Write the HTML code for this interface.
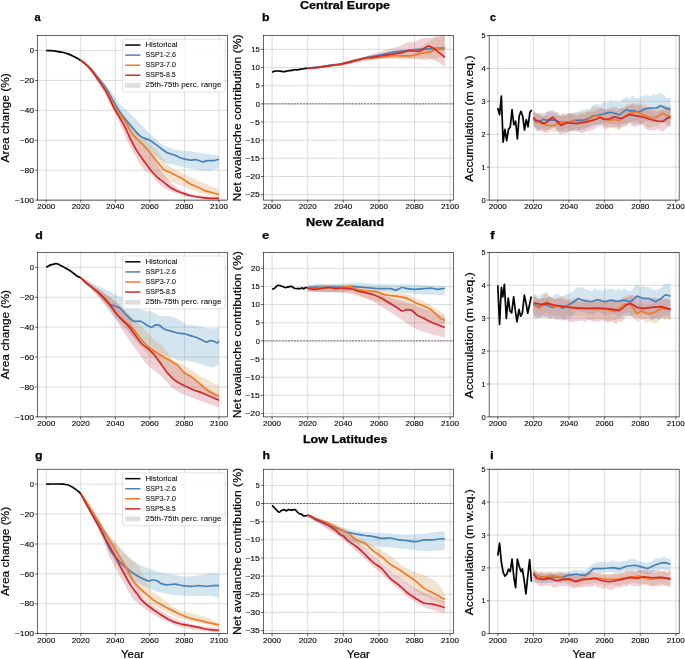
<!DOCTYPE html><html><head><meta charset="utf-8"><style>html,body{margin:0;padding:0;background:#fff;width:685px;height:659px;overflow:hidden}svg{display:block;filter:blur(0.3px)}text{font-family:"Liberation Sans",sans-serif}</style></head><body>
<svg width="685" height="659" viewBox="0 0 685 659">
<rect width="685" height="659" fill="#fff"/>
<g>
<clipPath id="cpa"><rect x="37.60" y="35.60" width="190.00" height="164.50"/></clipPath>
<path d="M46.24,35.60V200.10M80.78,35.60V200.10M115.33,35.60V200.10M149.87,35.60V200.10M184.42,35.60V200.10M218.96,35.60V200.10M37.60,50.55H227.60M37.60,80.46H227.60M37.60,110.37H227.60M37.60,140.28H227.60M37.60,170.19H227.60M37.60,200.10H227.60" stroke="#b0b0b0" stroke-opacity="0.75" stroke-width="0.6" fill="none"/>
<g clip-path="url(#cpa)">
<path d="M80.78,60.42 C83.66,63.02 93.16,71.04 98.05,75.98 C102.95,80.91 106.69,85.55 110.15,90.03 C113.60,94.52 115.62,99.11 118.78,102.90 C121.95,106.68 125.92,109.62 129.15,112.77 C132.37,115.91 134.64,118.25 138.13,121.74 C141.61,125.23 146.22,130.04 150.05,133.70 C153.87,137.37 157.59,141.30 161.10,143.72 C164.61,146.14 167.95,147.14 171.12,148.21 C174.28,149.28 176.82,149.60 180.10,150.15 C183.38,150.70 186.78,150.92 190.81,151.50 C194.84,152.07 199.59,152.89 204.28,153.59 C208.97,154.29 216.52,155.34 218.96,155.69 L218.96,167.20 C218.10,167.70 216.23,169.62 213.78,170.19 C211.33,170.76 208.11,170.86 204.28,170.64 C200.45,170.42 194.84,169.54 190.81,168.84 C186.78,168.15 182.81,167.15 180.10,166.45 C177.39,165.75 177.02,165.28 174.57,164.66 C172.13,164.03 168.38,164.03 165.42,162.71 C162.45,161.39 159.37,158.85 156.78,156.73 C154.19,154.61 152.46,152.25 149.87,150.00 C147.28,147.76 144.12,145.89 141.24,143.27 C138.36,140.66 135.48,137.79 132.60,134.30 C129.72,130.81 126.84,126.82 123.96,122.34 C121.08,117.85 118.21,112.37 115.33,107.38 C112.45,102.40 109.57,97.04 106.69,92.43 C103.81,87.82 102.37,85.05 98.05,79.72 C93.74,74.38 83.66,63.64 80.78,60.42Z" fill="#5397c3" fill-opacity="0.25" stroke="none"/>
<path d="M80.78,60.42 C83.66,63.14 92.30,69.40 98.05,76.72 C103.81,84.05 111.01,97.66 115.33,104.39 C119.65,111.12 121.08,113.36 123.96,117.10 C126.84,120.84 129.72,123.71 132.60,126.82 C135.48,129.94 138.36,132.93 141.24,135.80 C144.12,138.66 147.28,141.65 149.87,144.02 C152.46,146.39 154.48,147.39 156.78,150.00 C159.08,152.62 161.30,156.86 163.69,159.72 C166.08,162.59 167.66,164.83 171.12,167.20 C174.57,169.57 179.32,171.44 184.42,173.93 C189.51,176.42 195.93,179.66 201.69,182.15 C207.45,184.65 216.08,187.76 218.96,188.88 L218.96,197.11 C216.08,196.49 207.45,195.07 201.69,193.37 C195.93,191.68 189.02,188.68 184.42,186.94 C179.81,185.20 177.51,184.32 174.05,182.90 C170.60,181.48 167.15,180.29 163.69,178.42 C160.24,176.55 156.06,173.83 153.33,171.69 C150.59,169.54 149.18,167.80 147.28,165.56 C145.38,163.31 143.80,160.94 141.93,158.23 C140.06,155.51 137.90,152.49 136.05,149.25 C134.21,146.01 132.89,142.77 130.87,138.79 C128.86,134.80 126.55,129.81 123.96,125.33 C121.37,120.84 119.65,119.35 115.33,111.87 C111.01,104.39 103.81,89.04 98.05,80.46 C92.30,71.89 83.66,63.76 80.78,60.42Z" fill="#cf934b" fill-opacity="0.25" stroke="none"/>
<path d="M80.78,60.42 C83.66,63.64 92.30,71.77 98.05,79.72 C103.81,87.67 111.01,101.52 115.33,108.13 C119.65,114.73 121.37,115.36 123.96,119.35 C126.55,123.33 128.57,128.62 130.87,132.06 C133.18,135.50 135.48,137.59 137.78,139.98 C140.08,142.38 142.47,144.12 144.69,146.41 C146.91,148.71 149.07,150.77 151.08,153.74 C153.10,156.71 154.68,160.72 156.78,164.21 C158.88,167.70 160.81,171.19 163.69,174.68 C166.57,178.17 170.60,182.30 174.05,185.15 C177.51,187.99 179.81,189.98 184.42,191.73 C189.02,193.47 195.93,194.72 201.69,195.61 C207.45,196.51 216.08,196.86 218.96,197.11 L218.96,199.20 C216.08,199.10 207.45,199.08 201.69,198.60 C195.93,198.13 189.02,197.36 184.42,196.36 C179.81,195.36 177.51,194.09 174.05,192.62 C170.60,191.15 166.57,189.41 163.69,187.54 C160.81,185.67 159.03,183.67 156.78,181.41 C154.54,179.14 152.26,175.82 150.22,173.93 C148.17,172.04 146.53,172.21 144.52,170.04 C142.50,167.87 140.69,165.16 138.13,160.92 C135.57,156.68 132.17,150.75 129.15,144.62 C126.12,138.49 122.29,129.22 119.99,124.13 C117.69,119.05 118.12,119.64 115.33,114.11 C112.53,108.58 106.98,97.54 103.24,90.93 C99.49,84.33 96.62,79.57 92.87,74.48 C89.13,69.40 82.80,62.77 80.78,60.42Z" fill="#bb4b5f" fill-opacity="0.25" stroke="none"/>
<path d="M46.24,50.55 C47.10,50.58 49.69,50.58 51.42,50.70 C53.15,50.83 54.58,51.00 56.60,51.30 C58.62,51.60 61.49,52.03 63.51,52.50 C65.52,52.97 66.96,53.47 68.69,54.14 C70.42,54.82 72.43,55.84 73.87,56.54 C75.31,57.23 76.18,57.68 77.33,58.33 C78.48,58.98 80.21,60.08 80.78,60.42" stroke="#000" stroke-width="1.7" fill="none" stroke-linejoin="round" stroke-linecap="butt"/>
<path d="M80.78,60.42 C82.22,61.60 86.54,64.61 89.42,67.45 C92.30,70.29 95.09,73.71 98.05,77.47 C101.02,81.24 104.76,86.30 107.21,90.03 C109.66,93.77 110.61,96.27 112.74,99.90 C114.87,103.54 117.26,107.91 119.99,111.87 C122.73,115.83 125.81,119.67 129.15,123.68 C132.48,127.70 136.54,133.15 140.03,135.94 C143.51,138.74 146.99,138.69 150.05,140.43 C153.10,142.18 155.43,144.34 158.34,146.41 C161.24,148.48 164.78,151.40 167.49,152.84 C170.20,154.29 172.47,154.26 174.57,155.09 C176.67,155.91 178.46,157.13 180.10,157.78 C181.74,158.43 182.63,158.58 184.42,158.97 C186.20,159.37 188.85,160.05 190.81,160.17 C192.77,160.30 194.15,159.45 196.16,159.72 C198.18,160.00 201.09,161.67 202.90,161.82 C204.71,161.97 205.23,160.82 207.05,160.62 C208.86,160.42 211.80,160.84 213.78,160.62 C215.77,160.40 218.10,159.50 218.96,159.27" stroke="#4682b9" stroke-width="1.7" fill="none" stroke-linejoin="round" stroke-linecap="butt"/>
<path d="M80.78,60.42 C82.22,61.65 86.54,64.66 89.42,67.75 C92.30,70.84 95.18,74.98 98.05,78.97 C100.93,82.96 103.64,86.57 106.69,91.68 C109.74,96.79 114.15,105.81 116.36,109.62 C118.58,113.44 118.47,112.54 119.99,114.56 C121.52,116.58 123.56,118.70 125.52,121.74 C127.48,124.78 129.63,129.76 131.74,132.80 C133.84,135.85 136.00,137.71 138.13,139.98 C140.26,142.25 142.36,144.12 144.52,146.41 C146.68,148.71 149.10,151.32 151.08,153.74 C153.07,156.16 154.77,158.80 156.44,160.92 C158.11,163.04 159.75,164.93 161.10,166.45 C162.45,167.97 163.00,169.02 164.55,170.04 C166.11,171.06 168.33,171.59 170.43,172.58 C172.53,173.58 174.83,174.78 177.16,176.02 C179.50,177.27 182.14,178.69 184.42,180.06 C186.69,181.43 188.62,183.10 190.81,184.25 C193.00,185.39 195.30,185.92 197.55,186.94 C199.79,187.96 202.04,189.48 204.28,190.38 C206.53,191.28 208.57,191.60 211.02,192.32 C213.47,193.05 217.64,194.32 218.96,194.72" stroke="#f27a24" stroke-width="1.7" fill="none" stroke-linejoin="round" stroke-linecap="butt"/>
<path d="M80.78,60.42 C81.79,61.22 84.81,63.24 86.83,65.21 C88.84,67.18 90.86,69.60 92.87,72.24 C94.89,74.88 96.79,77.95 98.92,81.06 C101.05,84.18 103.78,87.79 105.65,90.93 C107.53,94.07 108.62,96.79 110.15,99.90 C111.67,103.02 113.17,106.58 114.81,109.62 C116.45,112.67 118.21,115.06 119.99,118.15 C121.78,121.24 123.70,124.53 125.52,128.17 C127.33,131.81 129.06,136.32 130.87,139.98 C132.69,143.65 134.56,147.11 136.40,150.15 C138.24,153.19 140.11,155.66 141.93,158.23 C143.74,160.79 145.93,163.69 147.28,165.56 C148.63,167.42 148.43,167.57 150.05,169.44 C151.66,171.31 154.68,174.65 156.95,176.77 C159.23,178.89 161.45,180.36 163.69,182.15 C165.94,183.95 168.18,186.07 170.43,187.54 C172.67,189.01 174.83,189.96 177.16,190.98 C179.50,192.00 182.14,192.87 184.42,193.67 C186.69,194.47 187.50,195.07 190.81,195.76 C194.12,196.46 199.59,197.41 204.28,197.86 C208.97,198.31 216.52,198.36 218.96,198.46" stroke="#d62728" stroke-width="1.7" fill="none" stroke-linejoin="round" stroke-linecap="butt"/>
</g>
<path d="M46.24,200.10v2.5M80.78,200.10v2.5M115.33,200.10v2.5M149.87,200.10v2.5M184.42,200.10v2.5M218.96,200.10v2.5M37.60,50.55h-2.5M37.60,80.46h-2.5M37.60,110.37h-2.5M37.60,140.28h-2.5M37.60,170.19h-2.5M37.60,200.10h-2.5" stroke="#000" stroke-width="0.6" fill="none"/>
<rect x="37.60" y="35.60" width="190.00" height="164.50" stroke="#000" stroke-width="0.6" fill="none"/>
<text x="37.21" y="209.2" font-size="7.35" font-weight="normal" textLength="18.00" lengthAdjust="spacingAndGlyphs" fill="#000" stroke="#000" stroke-width="0.1">2000</text>
<text x="71.76" y="209.2" font-size="7.35" font-weight="normal" textLength="18.00" lengthAdjust="spacingAndGlyphs" fill="#000" stroke="#000" stroke-width="0.1">2020</text>
<text x="106.30" y="209.2" font-size="7.35" font-weight="normal" textLength="18.00" lengthAdjust="spacingAndGlyphs" fill="#000" stroke="#000" stroke-width="0.1">2040</text>
<text x="140.85" y="209.2" font-size="7.35" font-weight="normal" textLength="18.00" lengthAdjust="spacingAndGlyphs" fill="#000" stroke="#000" stroke-width="0.1">2060</text>
<text x="175.39" y="209.2" font-size="7.35" font-weight="normal" textLength="18.00" lengthAdjust="spacingAndGlyphs" fill="#000" stroke="#000" stroke-width="0.1">2080</text>
<text x="209.94" y="209.2" font-size="7.35" font-weight="normal" textLength="18.00" lengthAdjust="spacingAndGlyphs" fill="#000" stroke="#000" stroke-width="0.1">2100</text>
<text x="29.88" y="53.2" font-size="7.35" font-weight="normal" textLength="4.21" lengthAdjust="spacingAndGlyphs" fill="#000" stroke="#000" stroke-width="0.1">0</text>
<text x="19.43" y="83.11" font-size="7.35" font-weight="normal" textLength="14.72" lengthAdjust="spacingAndGlyphs" fill="#000" stroke="#000" stroke-width="0.1">−20</text>
<text x="19.43" y="113.02" font-size="7.35" font-weight="normal" textLength="14.72" lengthAdjust="spacingAndGlyphs" fill="#000" stroke="#000" stroke-width="0.1">−40</text>
<text x="19.43" y="142.93" font-size="7.35" font-weight="normal" textLength="14.72" lengthAdjust="spacingAndGlyphs" fill="#000" stroke="#000" stroke-width="0.1">−60</text>
<text x="19.43" y="172.84" font-size="7.35" font-weight="normal" textLength="14.72" lengthAdjust="spacingAndGlyphs" fill="#000" stroke="#000" stroke-width="0.1">−80</text>
<text x="14.85" y="202.75" font-size="7.35" font-weight="normal" textLength="19.29" lengthAdjust="spacingAndGlyphs" fill="#000" stroke="#000" stroke-width="0.1">−100</text>
</g>
<g>
<clipPath id="cpb"><rect x="263.45" y="35.60" width="190.00" height="164.50"/></clipPath>
<path d="M272.09,35.60V200.10M307.70,35.60V200.10M343.31,35.60V200.10M378.93,35.60V200.10M414.54,35.60V200.10M450.16,35.60V200.10M263.45,194.65H453.45M263.45,176.50H453.45M263.45,158.34H453.45M263.45,140.18H453.45M263.45,122.03H453.45M263.45,103.87H453.45M263.45,85.71H453.45M263.45,67.56H453.45M263.45,49.40H453.45" stroke="#b0b0b0" stroke-opacity="0.75" stroke-width="0.6" fill="none"/>
<path d="M263.45,103.87H453.45" stroke="#000" stroke-opacity="0.8" stroke-width="0.7" stroke-dasharray="2,1.05" fill="none"/>
<g clip-path="url(#cpb)">
<path d="M307.70,67.74 C313.64,66.89 332.93,64.68 343.31,62.65 C353.70,60.63 363.50,57.12 370.02,55.57 C376.55,54.03 378.04,54.18 382.49,53.39 C386.94,52.61 391.39,51.70 396.73,50.85 C402.08,50.00 408.61,48.91 414.54,48.31 C420.48,47.70 427.30,47.46 432.35,47.22 C437.39,46.98 442.74,46.92 444.81,46.86 L444.81,49.76 C442.74,49.88 437.39,50.19 432.35,50.49 C427.30,50.79 420.48,51.03 414.54,51.58 C408.61,52.12 402.08,52.97 396.73,53.76 C391.39,54.54 386.94,55.51 382.49,56.30 C378.04,57.09 376.55,57.12 370.02,58.48 C363.50,59.84 353.70,62.80 343.31,64.47 C332.93,66.13 313.64,67.80 307.70,68.46Z" fill="#5397c3" fill-opacity="0.25" stroke="none"/>
<path d="M307.70,67.92 C313.64,67.07 332.93,64.71 343.31,62.84 C353.70,60.96 361.42,58.36 370.02,56.66 C378.63,54.97 388.72,53.58 394.95,52.67 C401.19,51.76 403.32,52.06 407.42,51.21 C411.51,50.37 416.50,48.85 419.53,47.58 C422.55,46.31 423.53,44.86 425.58,43.59 C427.63,42.32 429.97,41.23 431.81,39.96 C433.65,38.69 434.46,36.75 436.62,35.96 C438.79,35.18 443.45,35.36 444.81,35.24 L444.81,55.75 C444.07,55.97 441.85,56.57 440.36,57.02 C438.88,57.48 437.84,58.11 435.91,58.48 C433.98,58.84 430.72,58.90 428.79,59.20 C426.86,59.51 425.88,60.29 424.34,60.29 C422.79,60.29 421.78,59.45 419.53,59.20 C417.27,58.96 414.90,58.90 410.80,58.84 C406.71,58.78 401.69,58.72 394.95,58.84 C388.22,58.96 378.99,58.54 370.38,59.57 C361.77,60.60 353.76,63.44 343.31,65.01 C332.87,66.59 313.64,68.34 307.70,69.01Z" fill="#cf934b" fill-opacity="0.25" stroke="none"/>
<path d="M307.70,67.92 C310.67,67.50 319.57,66.28 325.51,65.38 C331.44,64.47 337.38,63.68 343.31,62.47 C349.25,61.26 356.61,59.45 361.12,58.11 C365.63,56.78 366.79,55.63 370.38,54.48 C373.97,53.33 378.57,52.36 382.67,51.21 C386.76,50.06 391.69,48.61 394.95,47.58 C398.22,46.55 400.21,45.89 402.26,45.04 C404.30,44.19 405.19,43.04 407.24,42.50 C409.29,41.95 412.11,42.44 414.54,41.77 C416.98,41.11 418.96,39.23 421.84,38.51 C424.72,37.78 428.94,37.72 431.81,37.42 C434.69,37.11 436.95,37.02 439.12,36.69 C441.28,36.36 443.86,35.63 444.81,35.42 L444.81,67.19 C443.86,66.47 440.90,64.05 439.12,62.84 C437.33,61.62 435.85,60.60 434.13,59.93 C432.41,59.26 432.05,59.02 428.79,58.84 C425.52,58.66 420.18,58.93 414.54,58.84 C408.90,58.75 400.27,58.30 394.95,58.30 C389.64,58.30 386.76,58.51 382.67,58.84 C378.57,59.17 373.97,59.81 370.38,60.29 C366.79,60.78 365.63,60.96 361.12,61.75 C356.61,62.53 349.25,64.11 343.31,65.01 C337.38,65.92 331.44,66.53 325.51,67.19 C319.57,67.86 310.67,68.71 307.70,69.01Z" fill="#bb4b5f" fill-opacity="0.25" stroke="none"/>
<path d="M272.09,72.28 C272.53,72.10 273.87,71.40 274.76,71.19 C275.65,70.98 276.54,71.01 277.43,71.01 C278.32,71.01 279.06,71.07 280.10,71.19 C281.14,71.31 282.62,71.73 283.66,71.73 C284.70,71.73 285.44,71.37 286.33,71.19 C287.22,71.01 288.11,70.76 289.00,70.64 C289.89,70.52 290.78,70.61 291.67,70.46 C292.56,70.31 293.45,69.83 294.35,69.73 C295.24,69.64 296.13,69.98 297.02,69.92 C297.91,69.86 298.80,69.52 299.69,69.37 C300.58,69.22 301.32,69.16 302.36,69.01 C303.40,68.86 305.03,68.58 305.92,68.46 C306.81,68.34 307.40,68.31 307.70,68.28" stroke="#000" stroke-width="1.7" fill="none" stroke-linejoin="round" stroke-linecap="butt"/>
<path d="M307.70,67.92 C309.18,67.80 313.99,67.46 316.60,67.19 C319.22,66.93 321.00,66.65 323.37,66.32 C325.74,65.99 328.12,65.56 330.85,65.20 C333.58,64.83 337.68,64.42 339.75,64.11 C341.83,63.79 340.52,64.00 343.31,63.31 C346.10,62.61 352.34,60.95 356.49,59.93 C360.65,58.91 365.93,57.65 368.24,57.17 C370.56,56.69 367.98,57.47 370.38,57.02 C372.78,56.58 378.57,55.33 382.67,54.48 C386.76,53.64 390.86,52.58 394.95,51.94 C399.05,51.31 403.15,51.09 407.24,50.67 C411.34,50.25 415.43,49.73 419.53,49.40 C423.62,49.07 427.60,48.88 431.81,48.67 C436.03,48.46 442.65,48.22 444.81,48.13" stroke="#4682b9" stroke-width="1.7" fill="none" stroke-linejoin="round" stroke-linecap="butt"/>
<path d="M307.70,68.46 C309.18,68.34 313.99,68.00 316.60,67.74 C319.22,67.47 321.00,67.20 323.37,66.87 C325.74,66.53 328.12,66.11 330.85,65.74 C333.58,65.37 337.68,64.97 339.75,64.65 C341.83,64.34 340.52,64.55 343.31,63.85 C346.10,63.16 352.34,61.50 356.49,60.47 C360.65,59.45 365.93,58.08 368.24,57.71 C370.56,57.35 367.98,58.41 370.38,58.30 C372.78,58.18 378.57,57.45 382.67,57.02 C386.76,56.60 390.27,55.97 394.95,55.75 C399.64,55.54 406.71,56.12 410.80,55.75 C414.90,55.39 417.06,54.09 419.53,53.58 C421.99,53.06 423.53,53.06 425.58,52.67 C427.63,52.27 429.97,51.97 431.81,51.21 C433.65,50.46 435.20,48.43 436.62,48.13 C438.05,47.83 439.00,49.31 440.36,49.40 C441.73,49.49 444.07,48.79 444.81,48.67" stroke="#f27a24" stroke-width="1.7" fill="none" stroke-linejoin="round" stroke-linecap="butt"/>
<path d="M307.70,68.28 C309.18,68.16 313.99,67.82 316.60,67.56 C319.22,67.29 321.00,67.02 323.37,66.68 C325.74,66.35 328.12,65.93 330.85,65.56 C333.58,65.19 337.68,64.78 339.75,64.47 C341.83,64.15 340.52,64.37 343.31,63.67 C346.10,62.97 352.34,61.32 356.49,60.29 C360.65,59.27 365.93,57.96 368.24,57.53 C370.56,57.11 368.60,57.96 370.38,57.75 C372.16,57.55 376.29,56.72 378.93,56.30 C381.57,55.88 383.56,55.63 386.23,55.21 C388.90,54.79 392.28,54.18 394.95,53.76 C397.63,53.33 399.82,53.18 402.26,52.67 C404.69,52.15 406.68,50.91 409.56,50.67 C412.43,50.43 416.44,51.97 419.53,51.21 C422.61,50.46 425.64,46.55 428.08,46.13 C430.51,45.71 432.29,47.58 434.13,48.67 C435.97,49.76 437.33,51.21 439.12,52.67 C440.90,54.12 443.86,56.60 444.81,57.39" stroke="#d62728" stroke-width="1.7" fill="none" stroke-linejoin="round" stroke-linecap="butt"/>
</g>
<path d="M272.09,200.10v2.5M307.70,200.10v2.5M343.31,200.10v2.5M378.93,200.10v2.5M414.54,200.10v2.5M450.16,200.10v2.5M263.45,194.65h-2.5M263.45,176.50h-2.5M263.45,158.34h-2.5M263.45,140.18h-2.5M263.45,122.03h-2.5M263.45,103.87h-2.5M263.45,85.71h-2.5M263.45,67.56h-2.5M263.45,49.40h-2.5" stroke="#000" stroke-width="0.6" fill="none"/>
<rect x="263.45" y="35.60" width="190.00" height="164.50" stroke="#000" stroke-width="0.6" fill="none"/>
<text x="263.06" y="209.2" font-size="7.35" font-weight="normal" textLength="18.00" lengthAdjust="spacingAndGlyphs" fill="#000" stroke="#000" stroke-width="0.1">2000</text>
<text x="298.67" y="209.2" font-size="7.35" font-weight="normal" textLength="18.00" lengthAdjust="spacingAndGlyphs" fill="#000" stroke="#000" stroke-width="0.1">2020</text>
<text x="334.29" y="209.2" font-size="7.35" font-weight="normal" textLength="18.00" lengthAdjust="spacingAndGlyphs" fill="#000" stroke="#000" stroke-width="0.1">2040</text>
<text x="369.90" y="209.2" font-size="7.35" font-weight="normal" textLength="18.00" lengthAdjust="spacingAndGlyphs" fill="#000" stroke="#000" stroke-width="0.1">2060</text>
<text x="405.52" y="209.2" font-size="7.35" font-weight="normal" textLength="18.00" lengthAdjust="spacingAndGlyphs" fill="#000" stroke="#000" stroke-width="0.1">2080</text>
<text x="441.13" y="209.2" font-size="7.35" font-weight="normal" textLength="18.00" lengthAdjust="spacingAndGlyphs" fill="#000" stroke="#000" stroke-width="0.1">2100</text>
<text x="245.28" y="197.3" font-size="7.35" font-weight="normal" textLength="14.61" lengthAdjust="spacingAndGlyphs" fill="#000" stroke="#000" stroke-width="0.1">−25</text>
<text x="245.28" y="179.15" font-size="7.35" font-weight="normal" textLength="14.72" lengthAdjust="spacingAndGlyphs" fill="#000" stroke="#000" stroke-width="0.1">−20</text>
<text x="245.28" y="160.99" font-size="7.35" font-weight="normal" textLength="14.61" lengthAdjust="spacingAndGlyphs" fill="#000" stroke="#000" stroke-width="0.1">−15</text>
<text x="245.28" y="142.83" font-size="7.35" font-weight="normal" textLength="14.72" lengthAdjust="spacingAndGlyphs" fill="#000" stroke="#000" stroke-width="0.1">−10</text>
<text x="249.85" y="124.68" font-size="7.35" font-weight="normal" textLength="10.05" lengthAdjust="spacingAndGlyphs" fill="#000" stroke="#000" stroke-width="0.1">−5</text>
<text x="255.73" y="106.52" font-size="7.35" font-weight="normal" textLength="4.21" lengthAdjust="spacingAndGlyphs" fill="#000" stroke="#000" stroke-width="0.1">0</text>
<text x="255.82" y="88.36" font-size="7.35" font-weight="normal" textLength="4.00" lengthAdjust="spacingAndGlyphs" fill="#000" stroke="#000" stroke-width="0.1">5</text>
<text x="251.19" y="70.21" font-size="7.35" font-weight="normal" textLength="8.77" lengthAdjust="spacingAndGlyphs" fill="#000" stroke="#000" stroke-width="0.1">10</text>
<text x="251.20" y="52.05" font-size="7.35" font-weight="normal" textLength="8.65" lengthAdjust="spacingAndGlyphs" fill="#000" stroke="#000" stroke-width="0.1">15</text>
</g>
<g>
<clipPath id="cpc"><rect x="489.15" y="35.60" width="190.00" height="164.50"/></clipPath>
<path d="M497.79,35.60V200.10M533.40,35.60V200.10M569.01,35.60V200.10M604.63,35.60V200.10M640.24,35.60V200.10M675.86,35.60V200.10M489.15,200.10H679.15M489.15,167.20H679.15M489.15,134.30H679.15M489.15,101.40H679.15M489.15,68.50H679.15M489.15,35.60H679.15" stroke="#b0b0b0" stroke-opacity="0.75" stroke-width="0.6" fill="none"/>
<g clip-path="url(#cpc)">
<path d="M533.40,112.14 L536.07,113.65 L538.74,114.91 L541.41,112.51 L544.08,113.41 L546.76,111.25 L549.43,111.38 L552.10,112.31 L554.77,112.90 L557.44,111.46 L560.11,115.56 L562.78,112.53 L565.45,114.72 L568.12,114.85 L570.79,112.83 L573.47,112.63 L576.14,112.23 L578.81,111.70 L581.48,109.77 L584.15,110.15 L586.82,108.13 L589.49,109.68 L592.16,105.88 L594.83,104.34 L597.51,104.09 L600.18,104.97 L602.85,102.16 L605.52,102.35 L608.19,102.98 L610.86,99.78 L613.53,102.35 L616.20,101.11 L618.87,102.70 L621.54,100.51 L624.22,98.15 L626.89,96.54 L629.56,98.75 L632.23,95.36 L634.90,97.86 L637.57,98.51 L640.24,97.14 L642.91,95.61 L645.58,95.60 L648.25,95.29 L650.93,96.21 L653.60,93.97 L656.27,94.69 L658.94,93.06 L661.61,93.25 L664.28,95.41 L666.95,98.16 L669.62,97.53 L670.51,98.09 L670.51,124.48 L669.62,125.06 L666.95,121.78 L664.28,122.13 L661.61,120.46 L658.94,119.78 L656.27,120.79 L653.60,123.29 L650.93,121.47 L648.25,121.84 L645.58,120.29 L642.91,123.80 L640.24,124.01 L637.57,123.02 L634.90,124.66 L632.23,122.68 L629.56,122.31 L626.89,123.31 L624.22,123.35 L621.54,123.93 L618.87,126.33 L616.20,124.57 L613.53,124.00 L610.86,123.46 L608.19,124.23 L605.52,123.54 L602.85,123.28 L600.18,124.56 L597.51,124.67 L594.83,125.71 L592.16,125.41 L589.49,128.30 L586.82,127.69 L584.15,130.60 L581.48,129.46 L578.81,131.16 L576.14,129.83 L573.47,130.85 L570.79,130.67 L568.12,132.06 L565.45,131.71 L562.78,131.85 L560.11,131.16 L557.44,131.44 L554.77,127.48 L552.10,128.14 L549.43,130.44 L546.76,128.95 L544.08,129.82 L541.41,128.07 L538.74,130.89 L536.07,130.97 L533.40,125.26Z" fill="#5397c3" fill-opacity="0.25" stroke="none"/>
<path d="M533.40,107.80 L536.07,113.93 L538.74,112.78 L541.41,113.87 L544.08,115.32 L546.76,116.51 L549.43,117.35 L552.10,116.39 L554.77,115.25 L557.44,115.54 L560.11,115.69 L562.78,114.06 L565.45,114.00 L568.12,113.12 L570.79,113.50 L573.47,112.78 L576.14,112.88 L578.81,112.61 L581.48,111.99 L584.15,111.91 L586.82,110.84 L589.49,110.45 L592.16,106.96 L594.83,106.33 L597.51,107.31 L600.18,107.63 L602.85,108.89 L605.52,110.51 L608.19,109.53 L610.86,110.68 L613.53,109.75 L616.20,111.75 L618.87,110.52 L621.54,108.26 L624.22,106.38 L626.89,104.36 L629.56,103.97 L632.23,102.98 L634.90,103.69 L637.57,103.08 L640.24,103.69 L642.91,104.03 L645.58,104.70 L648.25,106.19 L650.93,107.38 L653.60,108.75 L656.27,108.88 L658.94,104.66 L661.61,105.17 L664.28,104.58 L666.95,107.48 L669.62,107.10 L670.51,107.38 L670.51,124.25 L669.62,125.16 L666.95,126.00 L664.28,123.13 L661.61,122.39 L658.94,125.99 L656.27,126.74 L653.60,125.75 L650.93,127.67 L648.25,127.39 L645.58,125.90 L642.91,123.08 L640.24,124.15 L637.57,120.25 L634.90,122.49 L632.23,121.55 L629.56,122.20 L626.89,123.35 L624.22,126.43 L621.54,128.35 L618.87,130.16 L616.20,129.20 L613.53,128.22 L610.86,127.11 L608.19,128.47 L605.52,126.17 L602.85,125.11 L600.18,123.41 L597.51,124.20 L594.83,123.48 L592.16,126.52 L589.49,125.21 L586.82,127.48 L584.15,127.98 L581.48,128.85 L578.81,130.67 L576.14,127.61 L573.47,129.65 L570.79,130.35 L568.12,129.06 L565.45,128.27 L562.78,130.40 L560.11,131.48 L557.44,131.80 L554.77,132.16 L552.10,130.98 L549.43,132.86 L546.76,133.19 L544.08,130.51 L541.41,130.15 L538.74,128.11 L536.07,128.74 L533.40,122.63Z" fill="#cf934b" fill-opacity="0.25" stroke="none"/>
<path d="M533.40,110.82 L536.07,113.37 L538.74,113.20 L541.41,116.75 L544.08,116.32 L546.76,112.79 L549.43,111.02 L552.10,109.43 L554.77,111.27 L557.44,113.97 L560.11,116.10 L562.78,115.65 L565.45,116.01 L568.12,113.49 L570.79,114.09 L573.47,114.33 L576.14,115.68 L578.81,115.06 L581.48,113.01 L584.15,115.00 L586.82,111.69 L589.49,111.98 L592.16,111.56 L594.83,111.27 L597.51,109.38 L600.18,108.00 L602.85,108.49 L605.52,109.68 L608.19,108.64 L610.86,107.75 L613.53,107.12 L616.20,106.81 L618.87,109.17 L621.54,107.61 L624.22,108.83 L626.89,106.47 L629.56,105.54 L632.23,103.96 L634.90,105.24 L637.57,105.34 L640.24,105.24 L642.91,106.91 L645.58,108.25 L648.25,108.09 L650.93,110.19 L653.60,109.40 L656.27,111.83 L658.94,111.28 L661.61,109.46 L664.28,109.80 L666.95,107.27 L669.62,106.25 L670.51,104.56 L670.51,126.71 L669.62,126.74 L666.95,128.04 L664.28,130.12 L661.61,131.60 L658.94,129.50 L656.27,129.36 L653.60,131.05 L650.93,129.57 L648.25,129.94 L645.58,128.91 L642.91,125.09 L640.24,124.62 L637.57,126.23 L634.90,126.65 L632.23,126.13 L629.56,123.33 L626.89,126.58 L624.22,125.66 L621.54,126.25 L618.87,128.89 L616.20,126.56 L613.53,127.59 L610.86,127.58 L608.19,126.93 L605.52,129.89 L602.85,126.50 L600.18,125.55 L597.51,126.60 L594.83,128.69 L592.16,130.05 L589.49,131.06 L586.82,131.35 L584.15,132.56 L581.48,133.31 L578.81,131.09 L576.14,131.90 L573.47,131.12 L570.79,130.94 L568.12,132.07 L565.45,134.10 L562.78,133.31 L560.11,135.12 L557.44,130.18 L554.77,127.34 L552.10,127.79 L549.43,128.87 L546.76,131.09 L544.08,132.88 L541.41,130.42 L538.74,131.34 L536.07,128.81 L533.40,125.93Z" fill="#bb4b5f" fill-opacity="0.25" stroke="none"/>
<path d="M497.79,107.98 L499.57,114.56 L501.35,96.14 L503.13,142.20 L504.91,129.37 L506.69,140.55 L508.47,129.37 L510.25,127.06 L512.03,109.62 L513.81,124.76 L515.59,121.14 L517.37,138.91 L519.15,116.20 L520.94,111.27 L522.72,116.20 L524.50,130.02 L526.28,119.49 L528.06,126.73 L529.84,112.59 L531.62,109.95" stroke="#000" stroke-width="1.7" fill="none" stroke-linejoin="round" stroke-linecap="butt"/>
<path d="M533.40,118.18 L535.72,121.80 L539.28,122.46 L542.66,119.49 L546.22,120.15 L550.85,120.15 L555.66,120.15 L560.29,122.46 L564.92,122.46 L569.55,121.80 L574.18,120.48 L578.99,120.15 L583.62,120.15 L588.25,118.84 L592.88,115.88 L597.68,115.22 L602.31,114.23 L606.94,112.91 L610.68,112.26 L619.41,114.89 L626.35,109.62 L629.74,110.94 L633.30,110.61 L638.46,112.26 L645.41,108.64 L652.35,107.98 L656.80,107.98 L660.19,105.68 L664.64,107.65 L670.51,109.62" stroke="#4682b9" stroke-width="1.7" fill="none" stroke-linejoin="round" stroke-linecap="butt"/>
<path d="M533.40,117.52 L536.96,121.80 L541.59,122.78 L546.22,125.09 L550.85,125.75 L555.66,125.09 L559.04,122.78 L563.67,122.46 L568.48,121.80 L573.11,120.81 L576.67,121.80 L581.30,122.13 L585.93,121.14 L590.56,118.18 L595.37,115.88 L600.00,116.53 L604.63,118.84 L609.79,120.48 L612.28,119.49 L619.23,120.48 L629.74,113.24 L636.68,112.26 L643.63,114.89 L650.75,117.52 L655.91,117.52 L658.40,115.88 L662.86,113.24 L667.13,115.88 L670.51,115.88" stroke="#f27a24" stroke-width="1.7" fill="none" stroke-linejoin="round" stroke-linecap="butt"/>
<path d="M533.40,117.19 L535.72,120.15 L539.28,121.14 L542.66,123.44 L546.22,122.46 L549.78,119.49 L552.63,117.19 L555.66,120.48 L558.51,122.78 L560.82,125.42 L563.67,124.10 L567.23,122.78 L571.86,123.11 L576.67,123.77 L581.30,122.78 L585.93,122.13 L590.56,120.81 L595.37,119.49 L600.00,117.52 L604.63,119.49 L609.79,118.84 L614.24,116.86 L621.19,118.51 L629.74,114.56 L636.68,115.88 L643.63,117.19 L650.75,119.49 L657.69,121.14 L662.86,121.47 L666.24,118.84 L670.51,116.86" stroke="#d62728" stroke-width="1.7" fill="none" stroke-linejoin="round" stroke-linecap="butt"/>
</g>
<path d="M497.79,200.10v2.5M533.40,200.10v2.5M569.01,200.10v2.5M604.63,200.10v2.5M640.24,200.10v2.5M675.86,200.10v2.5M489.15,200.10h-2.5M489.15,167.20h-2.5M489.15,134.30h-2.5M489.15,101.40h-2.5M489.15,68.50h-2.5M489.15,35.60h-2.5" stroke="#000" stroke-width="0.6" fill="none"/>
<rect x="489.15" y="35.60" width="190.00" height="164.50" stroke="#000" stroke-width="0.6" fill="none"/>
<text x="488.76" y="209.2" font-size="7.35" font-weight="normal" textLength="18.00" lengthAdjust="spacingAndGlyphs" fill="#000" stroke="#000" stroke-width="0.1">2000</text>
<text x="524.37" y="209.2" font-size="7.35" font-weight="normal" textLength="18.00" lengthAdjust="spacingAndGlyphs" fill="#000" stroke="#000" stroke-width="0.1">2020</text>
<text x="559.99" y="209.2" font-size="7.35" font-weight="normal" textLength="18.00" lengthAdjust="spacingAndGlyphs" fill="#000" stroke="#000" stroke-width="0.1">2040</text>
<text x="595.60" y="209.2" font-size="7.35" font-weight="normal" textLength="18.00" lengthAdjust="spacingAndGlyphs" fill="#000" stroke="#000" stroke-width="0.1">2060</text>
<text x="631.22" y="209.2" font-size="7.35" font-weight="normal" textLength="18.00" lengthAdjust="spacingAndGlyphs" fill="#000" stroke="#000" stroke-width="0.1">2080</text>
<text x="666.83" y="209.2" font-size="7.35" font-weight="normal" textLength="18.00" lengthAdjust="spacingAndGlyphs" fill="#000" stroke="#000" stroke-width="0.1">2100</text>
<text x="481.43" y="202.75" font-size="7.35" font-weight="normal" textLength="4.21" lengthAdjust="spacingAndGlyphs" fill="#000" stroke="#000" stroke-width="0.1">0</text>
<text x="481.52" y="169.85" font-size="7.35" font-weight="normal" textLength="4.00" lengthAdjust="spacingAndGlyphs" fill="#000" stroke="#000" stroke-width="0.1">1</text>
<text x="481.45" y="136.95" font-size="7.35" font-weight="normal" textLength="4.05" lengthAdjust="spacingAndGlyphs" fill="#000" stroke="#000" stroke-width="0.1">2</text>
<text x="481.52" y="104.05" font-size="7.35" font-weight="normal" textLength="4.05" lengthAdjust="spacingAndGlyphs" fill="#000" stroke="#000" stroke-width="0.1">3</text>
<text x="481.48" y="71.15" font-size="7.35" font-weight="normal" textLength="4.20" lengthAdjust="spacingAndGlyphs" fill="#000" stroke="#000" stroke-width="0.1">4</text>
<text x="481.52" y="38.25" font-size="7.35" font-weight="normal" textLength="4.00" lengthAdjust="spacingAndGlyphs" fill="#000" stroke="#000" stroke-width="0.1">5</text>
</g>
<g>
<clipPath id="cpd"><rect x="37.60" y="252.40" width="190.00" height="164.50"/></clipPath>
<path d="M46.24,252.40V416.90M80.78,252.40V416.90M115.33,252.40V416.90M149.87,252.40V416.90M184.42,252.40V416.90M218.96,252.40V416.90M37.60,267.35H227.60M37.60,297.26H227.60M37.60,327.17H227.60M37.60,357.08H227.60M37.60,386.99H227.60M37.60,416.90H227.60" stroke="#b0b0b0" stroke-opacity="0.75" stroke-width="0.6" fill="none"/>
<g clip-path="url(#cpd)">
<path d="M80.78,277.82 C82.22,278.45 86.54,280.17 89.42,281.56 C92.30,282.96 95.15,284.80 98.05,286.20 C100.96,287.59 103.93,288.49 106.86,289.94 C109.80,291.38 112.53,293.13 115.67,294.87 C118.81,296.62 121.37,297.91 125.69,300.40 C130.01,302.90 137.18,307.91 141.58,309.83 C145.99,311.74 148.92,310.87 152.12,311.92 C155.31,312.97 157.90,315.41 160.75,316.11 C163.60,316.80 166.08,315.41 169.22,316.11 C172.36,316.80 176.59,318.85 179.58,320.29 C182.58,321.74 184.79,323.91 187.18,324.78 C189.57,325.65 191.67,325.18 193.92,325.53 C196.16,325.88 198.41,326.43 200.65,326.87 C202.90,327.32 204.34,328.00 207.39,328.22 C210.44,328.44 217.03,328.22 218.96,328.22 L218.96,363.96 C217.73,364.53 214.59,367.40 211.54,367.40 C208.48,367.40 204.71,365.11 200.65,363.96 C196.60,362.81 190.58,360.99 187.18,360.52 C183.78,360.05 183.27,361.87 180.27,361.12 C177.28,360.37 172.73,357.01 169.22,356.03 C165.71,355.06 164.18,357.38 159.20,355.29 C154.22,353.19 145.21,348.16 139.34,343.47 C133.46,338.79 128.89,332.43 123.96,327.17 C119.04,321.91 114.12,317.03 109.80,311.92 C105.48,306.81 101.45,300.70 98.05,296.52 C94.66,292.33 92.30,289.91 89.42,286.80 C86.54,283.68 82.22,279.32 80.78,277.82Z" fill="#5397c3" fill-opacity="0.25" stroke="none"/>
<path d="M80.78,277.82 C83.66,279.57 92.30,284.43 98.05,288.29 C103.81,292.15 110.72,297.26 115.33,301.00 C119.93,304.74 122.21,307.33 125.69,310.72 C129.17,314.11 133.03,318.15 136.23,321.34 C139.42,324.53 141.84,326.70 144.86,329.86 C147.89,333.03 151.37,337.54 154.36,340.33 C157.36,343.12 159.63,343.37 162.83,346.61 C166.02,349.85 169.94,356.66 173.54,359.77 C177.13,362.89 179.90,362.57 184.42,365.31 C188.94,368.05 194.90,372.81 200.65,376.22 C206.41,379.64 215.91,384.20 218.96,385.79 L218.96,399.85 C215.91,398.66 206.41,395.02 200.65,392.67 C194.90,390.33 188.71,387.84 184.42,385.79 C180.13,383.75 178.17,383.10 174.92,380.41 C171.67,377.72 168.33,373.18 164.90,369.64 C161.47,366.10 158.25,362.84 154.36,359.18 C150.48,355.51 146.36,353.09 141.58,347.66 C136.80,342.23 130.07,332.23 125.69,326.57 C121.32,320.92 119.93,318.97 115.33,313.71 C110.72,308.45 103.81,301.00 98.05,295.02 C92.30,289.04 83.66,280.69 80.78,277.82Z" fill="#cf934b" fill-opacity="0.25" stroke="none"/>
<path d="M80.78,277.82 C83.66,279.69 93.22,285.80 98.05,289.04 C102.89,292.28 106.09,294.32 109.80,297.26 C113.51,300.20 116.80,302.67 120.34,306.68 C123.88,310.70 128.57,316.26 131.05,321.34 C133.52,326.42 132.89,332.98 135.19,337.19 C137.49,341.40 141.15,343.67 144.86,346.61 C148.58,349.55 154.33,352.97 157.47,354.84 C160.61,356.71 160.93,356.33 163.69,357.83 C166.45,359.32 170.60,361.42 174.05,363.81 C177.51,366.20 179.81,368.82 184.42,372.19 C189.02,375.55 195.93,380.11 201.69,384.00 C207.45,387.89 216.08,393.60 218.96,395.51 L218.96,407.18 C215.91,406.13 206.41,402.97 200.65,400.90 C194.90,398.83 188.94,396.81 184.42,394.77 C179.90,392.72 177.60,391.95 173.54,388.64 C169.48,385.32 164.50,378.92 160.06,374.88 C155.63,370.84 150.91,368.60 146.94,364.41 C142.96,360.22 139.77,354.64 136.23,349.75 C132.69,344.87 129.20,340.36 125.69,335.10 C122.18,329.84 118.03,322.76 115.15,318.20 C112.28,313.64 111.27,311.47 108.42,307.73 C105.57,303.99 102.66,300.75 98.05,295.77 C93.45,290.78 83.66,280.81 80.78,277.82Z" fill="#bb4b5f" fill-opacity="0.25" stroke="none"/>
<path d="M46.24,267.35 C46.47,267.23 46.90,267.02 47.62,266.61 C48.34,266.20 49.69,265.25 50.55,264.89 C51.42,264.53 51.94,264.65 52.80,264.45 C53.66,264.26 54.87,263.79 55.74,263.72 C56.60,263.65 57.26,263.78 57.98,264.02 C58.70,264.26 59.22,264.74 60.05,265.17 C60.89,265.60 61.90,266.02 62.99,266.62 C64.08,267.23 65.38,268.08 66.62,268.81 C67.86,269.53 69.18,270.19 70.42,270.99 C71.66,271.79 72.95,272.76 74.05,273.61 C75.14,274.45 75.86,275.37 76.98,276.07 C78.10,276.78 80.15,277.53 80.78,277.82" stroke="#000" stroke-width="1.7" fill="none" stroke-linejoin="round" stroke-linecap="butt"/>
<path d="M80.78,277.82 C81.73,278.62 84.58,281.01 86.48,282.61 C88.38,284.20 90.25,285.70 92.18,287.39 C94.11,289.09 96.10,291.06 98.05,292.78 C100.01,294.50 101.97,295.82 103.93,297.71 C105.88,299.61 107.93,302.72 109.80,304.14 C111.67,305.56 113.40,305.54 115.15,306.24 C116.91,306.93 118.58,307.03 120.34,308.33 C122.09,309.63 123.56,311.92 125.69,314.01 C127.82,316.11 130.64,319.67 133.12,320.89 C135.59,322.11 138.42,320.74 140.55,321.34 C142.68,321.94 144.14,323.51 145.90,324.48 C147.66,325.45 149.50,327.07 151.08,327.17 C152.67,327.27 153.99,325.38 155.40,325.08 C156.81,324.78 158.11,324.73 159.55,325.38 C160.98,326.03 162.14,328.02 164.04,328.97 C165.94,329.91 168.67,330.39 170.95,331.06 C173.22,331.73 175.44,332.56 177.68,333.00 C179.93,333.45 182.17,333.28 184.42,333.75 C186.66,334.23 188.91,335.15 191.15,335.85 C193.40,336.54 195.42,336.92 197.89,337.94 C200.37,338.96 203.97,341.53 206.01,341.98 C208.05,342.43 208.77,340.76 210.15,340.63 C211.54,340.51 213.18,340.83 214.30,341.23 C215.42,341.63 216.11,343.02 216.89,343.02 C217.67,343.02 218.62,341.53 218.96,341.23" stroke="#4682b9" stroke-width="1.7" fill="none" stroke-linejoin="round" stroke-linecap="butt"/>
<path d="M80.78,277.82 C81.73,278.70 84.58,281.44 86.48,283.06 C88.38,284.68 89.94,285.57 92.18,287.54 C94.43,289.51 97.02,291.93 99.95,294.87 C102.89,297.81 107.09,302.00 109.80,305.19 C112.51,308.38 113.54,311.15 116.19,314.01 C118.84,316.88 122.87,319.92 125.69,322.39 C128.51,324.85 130.82,326.35 133.12,328.82 C135.42,331.29 137.38,334.58 139.51,337.19 C141.64,339.81 143.80,342.43 145.90,344.52 C148.00,346.61 150.02,348.18 152.12,349.75 C154.22,351.32 156.38,352.62 158.51,353.94 C160.64,355.26 162.77,356.46 164.90,357.68 C167.03,358.90 169.16,359.97 171.29,361.27 C173.42,362.57 175.49,363.54 177.68,365.46 C179.87,367.38 181.94,370.77 184.42,372.78 C186.89,374.80 189.83,375.63 192.54,377.57 C195.24,379.51 197.95,382.16 200.65,384.45 C203.36,386.74 205.72,389.38 208.77,391.33 C211.82,393.27 217.27,395.32 218.96,396.11" stroke="#f27a24" stroke-width="1.7" fill="none" stroke-linejoin="round" stroke-linecap="butt"/>
<path d="M80.78,277.82 C81.73,278.74 84.58,281.71 86.48,283.36 C88.38,285.00 89.94,285.95 92.18,287.69 C94.43,289.44 97.02,291.01 99.95,293.82 C102.89,296.64 107.27,301.58 109.80,304.59 C112.33,307.61 113.40,309.65 115.15,311.92 C116.91,314.19 118.03,315.76 120.34,318.20 C122.64,320.64 126.50,323.76 128.97,326.57 C131.45,329.39 133.09,332.28 135.19,335.10 C137.29,337.92 139.45,341.21 141.58,343.47 C143.71,345.74 145.84,346.79 147.97,348.71 C150.10,350.63 152.35,352.67 154.36,354.99 C156.38,357.31 157.99,359.75 160.06,362.62 C162.14,365.48 164.32,369.22 166.80,372.19 C169.28,375.15 171.98,378.14 174.92,380.41 C177.85,382.68 181.25,384.20 184.42,385.79 C187.58,387.39 190.75,388.71 193.92,389.98 C197.08,391.25 199.24,391.70 203.42,393.42 C207.59,395.14 216.37,399.15 218.96,400.30" stroke="#d62728" stroke-width="1.7" fill="none" stroke-linejoin="round" stroke-linecap="butt"/>
</g>
<path d="M46.24,416.90v2.5M80.78,416.90v2.5M115.33,416.90v2.5M149.87,416.90v2.5M184.42,416.90v2.5M218.96,416.90v2.5M37.60,267.35h-2.5M37.60,297.26h-2.5M37.60,327.17h-2.5M37.60,357.08h-2.5M37.60,386.99h-2.5M37.60,416.90h-2.5" stroke="#000" stroke-width="0.6" fill="none"/>
<rect x="37.60" y="252.40" width="190.00" height="164.50" stroke="#000" stroke-width="0.6" fill="none"/>
<text x="37.21" y="426" font-size="7.35" font-weight="normal" textLength="18.00" lengthAdjust="spacingAndGlyphs" fill="#000" stroke="#000" stroke-width="0.1">2000</text>
<text x="71.76" y="426" font-size="7.35" font-weight="normal" textLength="18.00" lengthAdjust="spacingAndGlyphs" fill="#000" stroke="#000" stroke-width="0.1">2020</text>
<text x="106.30" y="426" font-size="7.35" font-weight="normal" textLength="18.00" lengthAdjust="spacingAndGlyphs" fill="#000" stroke="#000" stroke-width="0.1">2040</text>
<text x="140.85" y="426" font-size="7.35" font-weight="normal" textLength="18.00" lengthAdjust="spacingAndGlyphs" fill="#000" stroke="#000" stroke-width="0.1">2060</text>
<text x="175.39" y="426" font-size="7.35" font-weight="normal" textLength="18.00" lengthAdjust="spacingAndGlyphs" fill="#000" stroke="#000" stroke-width="0.1">2080</text>
<text x="209.94" y="426" font-size="7.35" font-weight="normal" textLength="18.00" lengthAdjust="spacingAndGlyphs" fill="#000" stroke="#000" stroke-width="0.1">2100</text>
<text x="29.88" y="270" font-size="7.35" font-weight="normal" textLength="4.21" lengthAdjust="spacingAndGlyphs" fill="#000" stroke="#000" stroke-width="0.1">0</text>
<text x="19.43" y="299.91" font-size="7.35" font-weight="normal" textLength="14.72" lengthAdjust="spacingAndGlyphs" fill="#000" stroke="#000" stroke-width="0.1">−20</text>
<text x="19.43" y="329.82" font-size="7.35" font-weight="normal" textLength="14.72" lengthAdjust="spacingAndGlyphs" fill="#000" stroke="#000" stroke-width="0.1">−40</text>
<text x="19.43" y="359.73" font-size="7.35" font-weight="normal" textLength="14.72" lengthAdjust="spacingAndGlyphs" fill="#000" stroke="#000" stroke-width="0.1">−60</text>
<text x="19.43" y="389.64" font-size="7.35" font-weight="normal" textLength="14.72" lengthAdjust="spacingAndGlyphs" fill="#000" stroke="#000" stroke-width="0.1">−80</text>
<text x="14.85" y="419.55" font-size="7.35" font-weight="normal" textLength="19.29" lengthAdjust="spacingAndGlyphs" fill="#000" stroke="#000" stroke-width="0.1">−100</text>
</g>
<g>
<clipPath id="cpe"><rect x="263.45" y="252.40" width="190.00" height="164.50"/></clipPath>
<path d="M272.09,252.40V416.90M307.70,252.40V416.90M343.31,252.40V416.90M378.93,252.40V416.90M414.54,252.40V416.90M450.16,252.40V416.90M263.45,413.52H453.45M263.45,395.37H453.45M263.45,377.21H453.45M263.45,359.05H453.45M263.45,340.90H453.45M263.45,322.74H453.45M263.45,304.58H453.45M263.45,286.43H453.45M263.45,268.27H453.45" stroke="#b0b0b0" stroke-opacity="0.75" stroke-width="0.6" fill="none"/>
<path d="M263.45,340.90H453.45" stroke="#000" stroke-opacity="0.8" stroke-width="0.7" stroke-dasharray="2,1.05" fill="none"/>
<g clip-path="url(#cpe)">
<path d="M307.70,285.34 C309.18,285.09 313.64,284.07 316.60,283.88 C319.57,283.70 321.06,284.25 325.51,284.25 C329.96,284.25 338.12,284.19 343.31,283.88 C348.51,283.58 350.26,282.37 356.67,282.43 C363.08,282.49 373.38,283.94 381.78,284.25 C390.18,284.55 396.56,283.94 407.06,284.25 C417.57,284.55 438.52,285.76 444.81,286.06 L444.81,295.14 C441.25,295.02 429.74,294.72 423.45,294.41 C417.15,294.11 414.01,293.93 407.06,293.33 C400.12,292.72 390.18,291.33 381.78,290.78 C373.38,290.24 363.08,289.94 356.67,290.06 C350.26,290.18 348.51,291.21 343.31,291.51 C338.12,291.81 329.96,291.81 325.51,291.87 C321.06,291.93 319.57,291.99 316.60,291.87 C313.64,291.75 309.18,291.27 307.70,291.15Z" fill="#5397c3" fill-opacity="0.25" stroke="none"/>
<path d="M307.70,285.70 C310.67,285.52 318.09,284.79 325.51,284.61 C332.93,284.43 344.23,284.13 352.22,284.61 C360.20,285.09 367.09,286.49 373.41,287.52 C379.73,288.54 384.54,289.63 390.15,290.78 C395.76,291.93 402.85,293.26 407.06,294.41 C411.28,295.56 412.64,296.59 415.43,297.68 C418.22,298.77 420.74,299.32 423.80,300.95 C426.86,302.59 430.27,305.25 433.77,307.49 C437.28,309.73 442.97,313.24 444.81,314.39 L444.81,324.92 C441.31,323.83 430.09,320.86 423.80,318.38 C417.51,315.90 412.67,312.27 407.06,310.03 C401.45,307.79 395.76,306.58 390.15,304.95 C384.54,303.31 378.84,301.68 373.41,300.22 C367.98,298.77 362.58,297.44 357.56,296.23 C352.54,295.02 348.66,293.63 343.31,292.96 C337.97,292.30 331.44,292.48 325.51,292.24 C319.57,291.99 310.67,291.63 307.70,291.51Z" fill="#cf934b" fill-opacity="0.25" stroke="none"/>
<path d="M307.70,286.06 C310.67,285.88 319.57,285.03 325.51,284.97 C331.44,284.91 338.12,285.09 343.31,285.70 C348.51,286.30 351.65,287.45 356.67,288.60 C361.68,289.75 367.83,291.09 373.41,292.60 C378.99,294.11 384.54,295.99 390.15,297.68 C395.76,299.38 401.45,300.95 407.06,302.77 C412.67,304.58 417.51,306.25 423.80,308.58 C430.09,310.91 441.31,315.39 444.81,316.75 L444.81,337.63 C442.71,337.08 437.07,335.87 432.17,334.36 C427.27,332.85 421.01,331.33 415.43,328.55 C409.85,325.77 404.30,321.29 398.69,317.66 C393.08,314.02 387.39,310.09 381.78,306.76 C376.17,303.43 370.62,300.04 365.04,297.68 C359.46,295.32 354.89,293.51 348.30,292.60 C341.71,291.69 332.27,292.42 325.51,292.24 C318.74,292.05 310.67,291.63 307.70,291.51Z" fill="#bb4b5f" fill-opacity="0.25" stroke="none"/>
<path d="M272.09,288.97 C272.44,288.91 273.27,289.21 274.22,288.60 C275.17,288.00 276.57,285.76 277.78,285.34 C279.00,284.91 280.31,285.70 281.52,286.06 C282.74,286.43 283.90,287.39 285.09,287.52 C286.27,287.64 287.58,286.97 288.65,286.79 C289.72,286.61 290.55,286.18 291.50,286.43 C292.45,286.67 293.40,287.88 294.35,288.24 C295.29,288.60 296.21,288.54 297.19,288.60 C298.17,288.67 299.36,288.73 300.22,288.60 C301.08,288.48 301.76,287.82 302.36,287.88 C302.95,287.94 303.25,289.03 303.78,288.97 C304.32,288.91 304.91,287.64 305.56,287.52 C306.22,287.39 307.34,288.12 307.70,288.24" stroke="#000" stroke-width="1.7" fill="none" stroke-linejoin="round" stroke-linecap="butt"/>
<path d="M307.70,287.88 C309.07,287.76 313.52,287.21 315.89,287.15 C318.27,287.09 319.75,287.52 321.95,287.52 C324.14,287.52 326.69,287.21 329.07,287.15 C331.44,287.09 333.82,287.15 336.19,287.15 C338.57,287.15 340.70,287.27 343.31,287.15 C345.93,287.03 349.64,286.49 351.86,286.43 C354.09,286.37 354.47,286.61 356.67,286.79 C358.87,286.97 362.25,287.27 365.04,287.52 C367.83,287.76 370.62,288.06 373.41,288.24 C376.20,288.42 378.99,288.54 381.78,288.60 C384.57,288.67 387.77,288.36 390.15,288.60 C392.52,288.85 394.06,290.24 396.02,290.06 C397.98,289.88 400.06,287.76 401.90,287.52 C403.74,287.27 404.81,288.30 407.06,288.60 C409.32,288.91 412.64,289.33 415.43,289.33 C418.22,289.33 421.01,288.79 423.80,288.60 C426.59,288.42 429.94,288.12 432.17,288.24 C434.40,288.36 435.05,289.33 437.16,289.33 C439.26,289.33 443.54,288.42 444.81,288.24" stroke="#4682b9" stroke-width="1.7" fill="none" stroke-linejoin="round" stroke-linecap="butt"/>
<path d="M307.70,288.24 C308.89,288.30 312.30,288.73 314.82,288.60 C317.35,288.48 320.46,287.64 322.84,287.52 C325.21,287.39 326.84,287.76 329.07,287.88 C331.29,288.00 333.82,288.36 336.19,288.24 C338.57,288.12 340.73,287.39 343.31,287.15 C345.90,286.91 349.46,286.43 351.68,286.79 C353.91,287.15 354.44,288.67 356.67,289.33 C358.90,290.00 361.68,290.36 365.04,290.78 C368.39,291.21 373.70,291.27 376.79,291.87 C379.88,292.48 381.33,293.81 383.56,294.41 C385.78,295.02 387.62,295.14 390.15,295.50 C392.67,295.87 395.87,296.11 398.69,296.59 C401.51,297.08 404.27,297.38 407.06,298.41 C409.85,299.44 412.64,301.50 415.43,302.77 C418.22,304.04 421.31,304.95 423.80,306.03 C426.29,307.12 428.16,307.79 430.39,309.30 C432.62,310.82 435.46,313.60 437.16,315.11 C438.85,316.63 439.26,317.53 440.54,318.38 C441.82,319.23 444.10,319.89 444.81,320.20" stroke="#f27a24" stroke-width="1.7" fill="none" stroke-linejoin="round" stroke-linecap="butt"/>
<path d="M307.70,288.24 C308.59,288.42 311.17,289.21 313.04,289.33 C314.91,289.45 316.99,289.21 318.92,288.97 C320.85,288.73 322.72,288.12 324.62,287.88 C326.52,287.64 328.65,287.39 330.32,287.52 C331.98,287.64 332.90,288.48 334.59,288.60 C336.28,288.73 338.54,288.24 340.46,288.24 C342.39,288.24 344.26,288.48 346.16,288.60 C348.06,288.73 349.93,288.54 351.86,288.97 C353.79,289.39 355.54,290.54 357.74,291.15 C359.93,291.75 362.43,291.99 365.04,292.60 C367.65,293.20 370.62,293.81 373.41,294.78 C376.20,295.75 378.99,296.96 381.78,298.41 C384.57,299.86 387.62,301.98 390.15,303.49 C392.67,305.01 394.95,306.28 396.91,307.49 C398.87,308.70 400.21,310.39 401.90,310.76 C403.59,311.12 405.37,309.73 407.06,309.67 C408.75,309.61 410.39,309.48 412.05,310.39 C413.71,311.30 415.08,313.78 417.03,315.11 C418.99,316.44 421.58,317.29 423.80,318.38 C426.03,319.47 428.16,320.62 430.39,321.65 C432.62,322.68 434.75,323.59 437.16,324.55 C439.56,325.52 443.54,326.98 444.81,327.46" stroke="#d62728" stroke-width="1.7" fill="none" stroke-linejoin="round" stroke-linecap="butt"/>
</g>
<path d="M272.09,416.90v2.5M307.70,416.90v2.5M343.31,416.90v2.5M378.93,416.90v2.5M414.54,416.90v2.5M450.16,416.90v2.5M263.45,413.52h-2.5M263.45,395.37h-2.5M263.45,377.21h-2.5M263.45,359.05h-2.5M263.45,340.90h-2.5M263.45,322.74h-2.5M263.45,304.58h-2.5M263.45,286.43h-2.5M263.45,268.27h-2.5" stroke="#000" stroke-width="0.6" fill="none"/>
<rect x="263.45" y="252.40" width="190.00" height="164.50" stroke="#000" stroke-width="0.6" fill="none"/>
<text x="263.06" y="426" font-size="7.35" font-weight="normal" textLength="18.00" lengthAdjust="spacingAndGlyphs" fill="#000" stroke="#000" stroke-width="0.1">2000</text>
<text x="298.67" y="426" font-size="7.35" font-weight="normal" textLength="18.00" lengthAdjust="spacingAndGlyphs" fill="#000" stroke="#000" stroke-width="0.1">2020</text>
<text x="334.29" y="426" font-size="7.35" font-weight="normal" textLength="18.00" lengthAdjust="spacingAndGlyphs" fill="#000" stroke="#000" stroke-width="0.1">2040</text>
<text x="369.90" y="426" font-size="7.35" font-weight="normal" textLength="18.00" lengthAdjust="spacingAndGlyphs" fill="#000" stroke="#000" stroke-width="0.1">2060</text>
<text x="405.52" y="426" font-size="7.35" font-weight="normal" textLength="18.00" lengthAdjust="spacingAndGlyphs" fill="#000" stroke="#000" stroke-width="0.1">2080</text>
<text x="441.13" y="426" font-size="7.35" font-weight="normal" textLength="18.00" lengthAdjust="spacingAndGlyphs" fill="#000" stroke="#000" stroke-width="0.1">2100</text>
<text x="245.28" y="416.17" font-size="7.35" font-weight="normal" textLength="14.72" lengthAdjust="spacingAndGlyphs" fill="#000" stroke="#000" stroke-width="0.1">−20</text>
<text x="245.28" y="398.02" font-size="7.35" font-weight="normal" textLength="14.61" lengthAdjust="spacingAndGlyphs" fill="#000" stroke="#000" stroke-width="0.1">−15</text>
<text x="245.28" y="379.86" font-size="7.35" font-weight="normal" textLength="14.72" lengthAdjust="spacingAndGlyphs" fill="#000" stroke="#000" stroke-width="0.1">−10</text>
<text x="249.85" y="361.7" font-size="7.35" font-weight="normal" textLength="10.05" lengthAdjust="spacingAndGlyphs" fill="#000" stroke="#000" stroke-width="0.1">−5</text>
<text x="255.73" y="343.55" font-size="7.35" font-weight="normal" textLength="4.21" lengthAdjust="spacingAndGlyphs" fill="#000" stroke="#000" stroke-width="0.1">0</text>
<text x="255.82" y="325.39" font-size="7.35" font-weight="normal" textLength="4.00" lengthAdjust="spacingAndGlyphs" fill="#000" stroke="#000" stroke-width="0.1">5</text>
<text x="251.19" y="307.23" font-size="7.35" font-weight="normal" textLength="8.77" lengthAdjust="spacingAndGlyphs" fill="#000" stroke="#000" stroke-width="0.1">10</text>
<text x="251.20" y="289.08" font-size="7.35" font-weight="normal" textLength="8.65" lengthAdjust="spacingAndGlyphs" fill="#000" stroke="#000" stroke-width="0.1">15</text>
<text x="251.13" y="270.92" font-size="7.35" font-weight="normal" textLength="8.83" lengthAdjust="spacingAndGlyphs" fill="#000" stroke="#000" stroke-width="0.1">20</text>
</g>
<g>
<clipPath id="cpf"><rect x="489.15" y="252.40" width="190.00" height="164.50"/></clipPath>
<path d="M497.79,252.40V416.90M533.40,252.40V416.90M569.01,252.40V416.90M604.63,252.40V416.90M640.24,252.40V416.90M675.86,252.40V416.90M489.15,416.90H679.15M489.15,384.00H679.15M489.15,351.10H679.15M489.15,318.20H679.15M489.15,285.30H679.15M489.15,252.40H679.15" stroke="#b0b0b0" stroke-opacity="0.75" stroke-width="0.6" fill="none"/>
<g clip-path="url(#cpf)">
<path d="M533.40,294.06 L536.07,294.80 L538.74,297.14 L541.41,293.52 L544.08,293.05 L546.76,293.98 L549.43,296.37 L552.10,297.29 L554.77,294.59 L557.44,294.00 L560.11,296.33 L562.78,296.57 L565.45,294.48 L568.12,293.77 L570.79,292.50 L573.47,291.00 L576.14,287.48 L578.81,287.48 L581.48,287.21 L584.15,288.22 L586.82,289.94 L589.49,290.03 L592.16,291.41 L594.83,288.29 L597.51,289.84 L600.18,289.86 L602.85,290.16 L605.52,288.60 L608.19,289.84 L610.86,288.44 L613.53,289.87 L616.20,290.51 L618.87,288.53 L621.54,290.74 L624.22,288.03 L626.89,290.42 L629.56,291.27 L632.23,290.41 L634.90,285.32 L637.57,284.21 L640.24,287.49 L642.91,285.30 L645.58,287.36 L648.25,286.66 L650.93,288.70 L653.60,289.52 L656.27,290.27 L658.94,288.83 L661.61,288.03 L664.28,283.33 L666.95,284.44 L669.62,282.83 L670.51,285.60 L670.51,317.35 L669.62,315.83 L666.95,315.96 L664.28,315.31 L661.61,317.95 L658.94,319.93 L656.27,318.12 L653.60,320.02 L650.93,318.24 L648.25,314.93 L645.58,314.25 L642.91,314.29 L640.24,314.69 L637.57,311.28 L634.90,312.66 L632.23,315.51 L629.56,317.31 L626.89,316.80 L624.22,314.93 L621.54,316.32 L618.87,317.02 L616.20,315.30 L613.53,313.88 L610.86,314.62 L608.19,315.27 L605.52,315.69 L602.85,314.87 L600.18,313.22 L597.51,312.02 L594.83,314.82 L592.16,314.83 L589.49,314.38 L586.82,313.95 L584.15,311.93 L581.48,311.82 L578.81,311.69 L576.14,311.00 L573.47,315.47 L570.79,316.68 L568.12,316.56 L565.45,319.99 L562.78,318.97 L560.11,317.99 L557.44,318.61 L554.77,317.17 L552.10,317.35 L549.43,318.89 L546.76,317.05 L544.08,316.95 L541.41,315.92 L538.74,317.95 L536.07,317.41 L533.40,316.22Z" fill="#5397c3" fill-opacity="0.25" stroke="none"/>
<path d="M533.40,296.41 L536.07,297.40 L538.74,299.15 L541.41,299.42 L544.08,294.08 L546.76,292.19 L549.43,295.72 L552.10,297.43 L554.77,299.15 L557.44,298.24 L560.11,296.61 L562.78,296.47 L565.45,297.35 L568.12,299.66 L570.79,299.26 L573.47,297.01 L576.14,299.51 L578.81,298.90 L581.48,300.21 L584.15,298.82 L586.82,298.36 L589.49,300.33 L592.16,301.25 L594.83,300.94 L597.51,301.96 L600.18,300.82 L602.85,299.21 L605.52,300.83 L608.19,299.99 L610.86,299.77 L613.53,301.19 L616.20,303.10 L618.87,299.71 L621.54,298.63 L624.22,296.10 L626.89,295.88 L629.56,293.31 L632.23,297.82 L634.90,301.20 L637.57,305.33 L640.24,300.97 L642.91,303.42 L645.58,304.54 L648.25,303.88 L650.93,304.21 L653.60,302.97 L656.27,302.35 L658.94,301.37 L661.61,298.00 L664.28,299.98 L666.95,297.52 L669.62,299.67 L670.51,299.14 L670.51,318.11 L669.62,319.96 L666.95,318.70 L664.28,320.02 L661.61,316.62 L658.94,320.74 L656.27,322.38 L653.60,323.27 L650.93,321.79 L648.25,322.35 L645.58,323.16 L642.91,319.84 L640.24,320.14 L637.57,322.56 L634.90,319.69 L632.23,317.07 L629.56,312.51 L626.89,313.26 L624.22,312.74 L621.54,317.66 L618.87,318.13 L616.20,319.66 L613.53,319.93 L610.86,321.93 L608.19,321.11 L605.52,319.25 L602.85,319.25 L600.18,319.81 L597.51,318.60 L594.83,318.78 L592.16,320.31 L589.49,319.74 L586.82,319.06 L584.15,316.62 L581.48,316.46 L578.81,317.08 L576.14,315.91 L573.47,315.95 L570.79,317.79 L568.12,315.31 L565.45,317.44 L562.78,317.09 L560.11,317.02 L557.44,314.53 L554.77,316.83 L552.10,315.65 L549.43,314.73 L546.76,313.04 L544.08,313.27 L541.41,316.17 L538.74,316.70 L536.07,315.05 L533.40,314.11Z" fill="#cf934b" fill-opacity="0.25" stroke="none"/>
<path d="M533.40,295.85 L536.07,297.36 L538.74,299.45 L541.41,298.27 L544.08,298.12 L546.76,297.97 L549.43,296.71 L552.10,297.95 L554.77,299.62 L557.44,297.93 L560.11,298.26 L562.78,298.45 L565.45,301.25 L568.12,299.23 L570.79,301.84 L573.47,300.29 L576.14,299.47 L578.81,302.08 L581.48,301.48 L584.15,299.60 L586.82,300.39 L589.49,299.69 L592.16,302.07 L594.83,300.00 L597.51,300.01 L600.18,299.08 L602.85,301.62 L605.52,301.09 L608.19,300.75 L610.86,301.88 L613.53,300.54 L616.20,300.74 L618.87,302.66 L621.54,300.11 L624.22,298.57 L626.89,297.38 L629.56,296.51 L632.23,294.88 L634.90,295.64 L637.57,296.92 L640.24,298.26 L642.91,299.32 L645.58,297.98 L648.25,298.67 L650.93,298.50 L653.60,297.06 L656.27,297.63 L658.94,298.39 L661.61,298.46 L664.28,298.35 L666.95,298.72 L669.62,300.03 L670.51,298.20 L670.51,319.48 L669.62,319.92 L666.95,317.56 L664.28,319.10 L661.61,317.35 L658.94,319.31 L656.27,317.09 L653.60,319.08 L650.93,320.01 L648.25,318.35 L645.58,319.36 L642.91,318.52 L640.24,318.01 L637.57,317.69 L634.90,318.54 L632.23,316.52 L629.56,315.80 L626.89,315.01 L624.22,319.04 L621.54,321.66 L618.87,321.30 L616.20,323.77 L613.53,323.33 L610.86,320.26 L608.19,322.44 L605.52,322.03 L602.85,320.38 L600.18,320.81 L597.51,322.23 L594.83,321.56 L592.16,321.56 L589.49,319.72 L586.82,320.82 L584.15,321.50 L581.48,320.21 L578.81,321.21 L576.14,321.29 L573.47,322.05 L570.79,322.14 L568.12,321.06 L565.45,319.57 L562.78,320.78 L560.11,319.31 L557.44,320.37 L554.77,319.11 L552.10,318.16 L549.43,318.44 L546.76,316.92 L544.08,317.51 L541.41,318.03 L538.74,317.99 L536.07,318.82 L533.40,316.48Z" fill="#bb4b5f" fill-opacity="0.25" stroke="none"/>
<path d="M497.79,285.30 L499.57,324.45 L501.35,287.27 L502.77,296.81 L504.37,284.31 L506.33,318.53 L508.29,298.13 L509.90,310.96 L511.68,312.94 L513.63,296.81 L515.24,309.97 L517.02,321.82 L518.98,309.32 L520.58,316.23 L522.36,313.26 L524.32,295.17 L526.10,303.39 L527.70,313.26 L529.48,305.04 L531.26,296.49" stroke="#000" stroke-width="1.7" fill="none" stroke-linejoin="round" stroke-linecap="butt"/>
<path d="M533.40,304.05 L538.92,306.68 L545.33,304.38 L551.92,307.34 L558.51,305.70 L562.78,308.33 L568.30,305.04 L573.82,301.75 L578.10,298.46 L584.68,300.76 L591.27,301.75 L597.68,299.45 L604.27,301.75 L610.86,300.11 L617.45,301.42 L623.86,300.11 L630.45,301.75 L637.04,296.16 L643.63,298.46 L648.97,298.46 L655.56,301.75 L661.08,298.46 L665.35,294.84 L670.51,296.16" stroke="#4682b9" stroke-width="1.7" fill="none" stroke-linejoin="round" stroke-linecap="butt"/>
<path d="M533.40,305.04 L538.92,308.33 L546.58,301.75 L551.92,306.03 L562.78,306.03 L573.82,307.34 L584.68,308.33 L595.55,309.32 L606.41,309.32 L615.13,311.62 L623.86,304.38 L630.45,304.05 L637.04,313.92 L641.31,310.63 L647.90,313.92 L654.49,312.61 L661.08,308.33 L670.51,309.32" stroke="#f27a24" stroke-width="1.7" fill="none" stroke-linejoin="round" stroke-linecap="butt"/>
<path d="M533.40,302.74 L541.06,304.38 L547.65,303.39 L554.06,305.04 L560.64,306.03 L569.37,307.34 L578.10,308.33 L586.82,308.33 L595.55,308.00 L604.27,308.33 L613.00,309.32 L619.59,310.63 L626.17,305.04 L630.45,303.39 L637.04,307.34 L643.63,308.33 L652.35,307.34 L661.08,306.68 L670.51,309.32" stroke="#d62728" stroke-width="1.7" fill="none" stroke-linejoin="round" stroke-linecap="butt"/>
</g>
<path d="M497.79,416.90v2.5M533.40,416.90v2.5M569.01,416.90v2.5M604.63,416.90v2.5M640.24,416.90v2.5M675.86,416.90v2.5M489.15,416.90h-2.5M489.15,384.00h-2.5M489.15,351.10h-2.5M489.15,318.20h-2.5M489.15,285.30h-2.5M489.15,252.40h-2.5" stroke="#000" stroke-width="0.6" fill="none"/>
<rect x="489.15" y="252.40" width="190.00" height="164.50" stroke="#000" stroke-width="0.6" fill="none"/>
<text x="488.76" y="426" font-size="7.35" font-weight="normal" textLength="18.00" lengthAdjust="spacingAndGlyphs" fill="#000" stroke="#000" stroke-width="0.1">2000</text>
<text x="524.37" y="426" font-size="7.35" font-weight="normal" textLength="18.00" lengthAdjust="spacingAndGlyphs" fill="#000" stroke="#000" stroke-width="0.1">2020</text>
<text x="559.99" y="426" font-size="7.35" font-weight="normal" textLength="18.00" lengthAdjust="spacingAndGlyphs" fill="#000" stroke="#000" stroke-width="0.1">2040</text>
<text x="595.60" y="426" font-size="7.35" font-weight="normal" textLength="18.00" lengthAdjust="spacingAndGlyphs" fill="#000" stroke="#000" stroke-width="0.1">2060</text>
<text x="631.22" y="426" font-size="7.35" font-weight="normal" textLength="18.00" lengthAdjust="spacingAndGlyphs" fill="#000" stroke="#000" stroke-width="0.1">2080</text>
<text x="666.83" y="426" font-size="7.35" font-weight="normal" textLength="18.00" lengthAdjust="spacingAndGlyphs" fill="#000" stroke="#000" stroke-width="0.1">2100</text>
<text x="481.43" y="419.55" font-size="7.35" font-weight="normal" textLength="4.21" lengthAdjust="spacingAndGlyphs" fill="#000" stroke="#000" stroke-width="0.1">0</text>
<text x="481.52" y="386.65" font-size="7.35" font-weight="normal" textLength="4.00" lengthAdjust="spacingAndGlyphs" fill="#000" stroke="#000" stroke-width="0.1">1</text>
<text x="481.45" y="353.75" font-size="7.35" font-weight="normal" textLength="4.05" lengthAdjust="spacingAndGlyphs" fill="#000" stroke="#000" stroke-width="0.1">2</text>
<text x="481.52" y="320.85" font-size="7.35" font-weight="normal" textLength="4.05" lengthAdjust="spacingAndGlyphs" fill="#000" stroke="#000" stroke-width="0.1">3</text>
<text x="481.48" y="287.95" font-size="7.35" font-weight="normal" textLength="4.20" lengthAdjust="spacingAndGlyphs" fill="#000" stroke="#000" stroke-width="0.1">4</text>
<text x="481.52" y="255.05" font-size="7.35" font-weight="normal" textLength="4.00" lengthAdjust="spacingAndGlyphs" fill="#000" stroke="#000" stroke-width="0.1">5</text>
</g>
<g>
<clipPath id="cpg"><rect x="37.60" y="469.20" width="190.00" height="164.50"/></clipPath>
<path d="M46.24,469.20V633.70M80.78,469.20V633.70M115.33,469.20V633.70M149.87,469.20V633.70M184.42,469.20V633.70M218.96,469.20V633.70M37.60,484.15H227.60M37.60,514.06H227.60M37.60,543.97H227.60M37.60,573.88H227.60M37.60,603.79H227.60M37.60,633.70H227.60" stroke="#b0b0b0" stroke-opacity="0.75" stroke-width="0.6" fill="none"/>
<g clip-path="url(#cpg)">
<path d="M80.78,493.88 C83.66,497.99 93.45,511.70 98.05,518.55 C102.66,525.40 105.54,530.89 108.42,535.00 C111.30,539.11 112.79,540.36 115.33,543.23 C117.86,546.09 120.71,549.33 123.62,552.20 C126.53,555.06 129.72,558.15 132.77,560.42 C135.82,562.69 138.88,564.29 141.93,565.81 C144.98,567.33 148.03,568.47 151.08,569.55 C154.13,570.62 157.04,571.49 160.24,572.24 C163.43,572.98 166.48,573.33 170.25,574.03 C174.03,574.73 179.06,576.08 182.86,576.42 C186.66,576.77 189.92,576.42 193.05,576.12 C196.19,575.83 198.12,575.15 201.69,574.63 C205.26,574.11 211.59,573.01 214.47,572.98 C217.35,572.96 218.22,574.23 218.96,574.48 L218.96,597.06 C216.66,596.89 210.18,596.19 205.15,596.01 C200.11,595.84 193.11,596.11 188.74,596.01 C184.36,595.91 181.97,595.67 178.89,595.42 C175.81,595.17 172.62,594.89 170.25,594.52 C167.89,594.15 166.86,593.70 164.73,593.17 C162.60,592.65 159.89,592.13 157.47,591.38 C155.05,590.63 153.79,590.23 150.22,588.69 C146.65,587.14 140.14,584.57 136.05,582.11 C131.97,579.64 129.15,577.25 125.69,573.88 C122.24,570.52 117.98,565.66 115.33,561.92 C112.68,558.18 112.68,557.18 109.80,551.45 C106.92,545.72 102.89,537.12 98.05,527.52 C93.22,517.93 83.66,499.48 80.78,493.88Z" fill="#5397c3" fill-opacity="0.25" stroke="none"/>
<path d="M80.78,493.88 C82.22,495.87 86.54,501.60 89.42,505.84 C92.30,510.08 95.18,514.94 98.05,519.30 C100.93,523.66 103.67,528.05 106.69,532.01 C109.71,535.97 113.37,539.79 116.19,543.08 C119.01,546.37 121.32,549.23 123.62,551.75 C125.92,554.27 127.73,555.99 130.01,558.18 C132.28,560.37 134.82,561.79 137.26,564.91 C139.71,568.02 142.53,572.91 144.69,576.87 C146.85,580.84 148.09,585.70 150.22,588.69 C152.35,591.68 155.05,592.87 157.47,594.82 C159.89,596.76 162.80,598.73 164.73,600.35 C166.66,601.97 166.68,602.92 169.05,604.54 C171.41,606.16 175.61,608.70 178.89,610.07 C182.17,611.44 185.45,611.94 188.74,612.76 C192.02,613.59 195.30,614.13 198.58,615.01 C201.86,615.88 205.03,616.58 208.43,618.00 C211.82,619.42 217.21,622.61 218.96,623.53 L218.96,627.42 C215.57,626.62 205.26,624.25 198.58,622.63 C191.90,621.01 185.45,619.99 178.89,617.70 C172.33,615.41 164.04,611.32 159.20,608.88 C154.36,606.43 152.58,605.14 149.87,603.04 C147.17,600.95 145.07,598.56 142.96,596.31 C140.86,594.07 139.13,592.20 137.26,589.58 C135.39,586.97 133.55,583.48 131.74,580.61 C129.92,577.75 128.20,575.25 126.38,572.39 C124.57,569.52 122.70,566.65 120.85,563.41 C119.01,560.17 117.17,556.19 115.33,552.95 C113.48,549.71 112.68,548.96 109.80,543.97 C106.92,538.99 102.89,531.39 98.05,523.04 C93.22,514.69 83.66,498.74 80.78,493.88Z" fill="#cf934b" fill-opacity="0.25" stroke="none"/>
<path d="M80.78,493.88 C83.08,497.74 90.86,510.82 94.60,517.05 C98.34,523.29 100.70,527.15 103.24,531.26 C105.77,535.37 107.78,538.49 109.80,541.73 C111.82,544.97 113.48,547.71 115.33,550.70 C117.17,553.69 119.01,556.56 120.85,559.68 C122.70,562.79 124.57,566.28 126.38,569.40 C128.20,572.51 129.92,575.30 131.74,578.37 C133.55,581.43 135.10,584.40 137.26,587.79 C139.42,591.18 142.59,596.16 144.69,598.71 C146.79,601.25 147.45,601.20 149.87,603.04 C152.29,604.89 154.36,606.86 159.20,609.77 C164.04,612.69 172.33,617.92 178.89,620.54 C185.45,623.16 191.90,624.23 198.58,625.48 C205.26,626.72 215.57,627.59 218.96,628.02 L218.96,632.35 C215.57,632.03 205.26,631.38 198.58,630.41 C191.90,629.44 185.45,628.64 178.89,626.52 C172.33,624.40 164.12,620.12 159.20,617.70 C154.28,615.28 152.64,614.21 149.35,612.02 C146.07,609.82 141.98,606.48 139.51,604.54 C137.03,602.59 135.80,601.62 134.50,600.35 C133.20,599.08 133.09,599.01 131.74,596.91 C130.38,594.82 128.20,590.98 126.38,587.79 C124.57,584.60 122.70,581.11 120.85,577.77 C119.01,574.43 117.17,571.12 115.33,567.75 C113.48,564.39 111.61,561.54 109.80,557.58 C107.99,553.62 106.40,548.98 104.45,543.97 C102.49,538.96 100.56,533.75 98.05,527.52 C95.55,521.29 92.30,512.19 89.42,506.59 C86.54,500.98 82.22,495.99 80.78,493.88Z" fill="#bb4b5f" fill-opacity="0.25" stroke="none"/>
<path d="M46.24,484.15 C47.10,484.13 49.60,484.03 51.42,484.01 C53.23,483.98 55.19,483.98 57.12,484.01 C59.05,484.03 61.15,483.98 62.99,484.15 C64.83,484.33 66.70,484.63 68.17,485.05 C69.64,485.48 70.59,486.02 71.80,486.70 C73.01,487.37 74.33,488.29 75.43,489.09 C76.52,489.89 77.47,490.68 78.36,491.48 C79.26,492.28 80.38,493.48 80.78,493.88" stroke="#000" stroke-width="1.7" fill="none" stroke-linejoin="round" stroke-linecap="butt"/>
<path d="M80.78,493.88 C81.73,495.57 84.58,500.68 86.48,504.04 C88.38,507.41 89.94,510.28 92.18,514.06 C94.43,517.85 97.82,522.79 99.95,526.78 C102.08,530.76 103.32,534.20 104.96,537.99 C106.60,541.78 108.07,546.39 109.80,549.51 C111.53,552.62 113.48,554.42 115.33,556.68 C117.17,558.95 119.01,561.27 120.85,563.11 C122.70,564.96 124.57,566.23 126.38,567.75 C128.20,569.27 129.92,570.89 131.74,572.24 C133.55,573.58 135.42,574.75 137.26,575.83 C139.11,576.90 140.95,577.82 142.79,578.67 C144.63,579.51 146.79,580.69 148.32,580.91 C149.84,581.13 150.56,580.09 151.95,580.01 C153.33,579.94 155.08,579.86 156.61,580.46 C158.13,581.06 159.37,582.88 161.10,583.60 C162.83,584.33 164.67,584.70 166.97,584.80 C169.28,584.90 172.27,584.05 174.92,584.20 C177.57,584.35 180.22,585.35 182.86,585.70 C185.51,586.04 188.19,586.29 190.81,586.29 C193.43,586.29 195.96,585.70 198.58,585.70 C201.20,585.70 204.22,586.29 206.53,586.29 C208.83,586.29 210.33,585.80 212.40,585.70 C214.47,585.60 217.87,585.70 218.96,585.70" stroke="#4682b9" stroke-width="1.7" fill="none" stroke-linejoin="round" stroke-linecap="butt"/>
<path d="M80.78,493.88 C82.22,495.99 86.54,502.10 89.42,506.59 C92.30,511.07 95.61,516.68 98.05,520.79 C100.50,524.91 102.14,528.00 104.10,531.26 C106.06,534.53 107.93,537.34 109.80,540.38 C111.67,543.42 113.48,546.47 115.33,549.51 C117.17,552.55 119.01,555.59 120.85,558.63 C122.70,561.67 124.86,565.03 126.38,567.75 C127.91,570.47 128.80,572.66 130.01,574.93 C131.22,577.20 132.11,579.22 133.64,581.36 C135.16,583.50 137.03,585.67 139.16,587.79 C141.29,589.91 143.97,591.98 146.42,594.07 C148.87,596.16 151.54,598.68 153.85,600.35 C156.15,602.02 157.70,602.67 160.24,604.09 C162.77,605.51 165.94,607.28 169.05,608.88 C172.15,610.47 175.61,612.19 178.89,613.66 C182.17,615.13 185.45,616.60 188.74,617.70 C192.02,618.80 195.30,619.42 198.58,620.24 C201.86,621.06 205.03,621.86 208.43,622.63 C211.82,623.41 217.21,624.50 218.96,624.88" stroke="#f27a24" stroke-width="1.7" fill="none" stroke-linejoin="round" stroke-linecap="butt"/>
<path d="M80.78,493.88 C81.73,495.64 84.58,501.00 86.48,504.49 C88.38,507.98 90.25,511.32 92.18,514.81 C94.11,518.30 96.10,521.82 98.05,525.43 C100.01,529.04 101.97,532.96 103.93,536.50 C105.88,540.03 107.90,543.30 109.80,546.66 C111.70,550.03 113.48,553.17 115.33,556.68 C117.17,560.20 119.01,564.24 120.85,567.75 C122.70,571.26 124.57,574.58 126.38,577.77 C128.20,580.96 129.92,584.18 131.74,586.89 C133.55,589.61 135.57,591.83 137.26,594.07 C138.96,596.31 139.91,598.23 141.93,600.35 C143.94,602.47 146.48,604.56 149.35,606.78 C152.23,609.00 155.92,611.52 159.20,613.66 C162.48,615.80 165.76,618.00 169.05,619.64 C172.33,621.29 175.61,622.56 178.89,623.53 C182.17,624.50 185.45,624.83 188.74,625.48 C192.02,626.12 195.30,626.75 198.58,627.42 C201.86,628.09 205.03,629.01 208.43,629.51 C211.82,630.01 217.21,630.26 218.96,630.41" stroke="#d62728" stroke-width="1.7" fill="none" stroke-linejoin="round" stroke-linecap="butt"/>
</g>
<path d="M46.24,633.70v2.5M80.78,633.70v2.5M115.33,633.70v2.5M149.87,633.70v2.5M184.42,633.70v2.5M218.96,633.70v2.5M37.60,484.15h-2.5M37.60,514.06h-2.5M37.60,543.97h-2.5M37.60,573.88h-2.5M37.60,603.79h-2.5M37.60,633.70h-2.5" stroke="#000" stroke-width="0.6" fill="none"/>
<rect x="37.60" y="469.20" width="190.00" height="164.50" stroke="#000" stroke-width="0.6" fill="none"/>
<text x="37.21" y="642.8" font-size="7.35" font-weight="normal" textLength="18.00" lengthAdjust="spacingAndGlyphs" fill="#000" stroke="#000" stroke-width="0.1">2000</text>
<text x="71.76" y="642.8" font-size="7.35" font-weight="normal" textLength="18.00" lengthAdjust="spacingAndGlyphs" fill="#000" stroke="#000" stroke-width="0.1">2020</text>
<text x="106.30" y="642.8" font-size="7.35" font-weight="normal" textLength="18.00" lengthAdjust="spacingAndGlyphs" fill="#000" stroke="#000" stroke-width="0.1">2040</text>
<text x="140.85" y="642.8" font-size="7.35" font-weight="normal" textLength="18.00" lengthAdjust="spacingAndGlyphs" fill="#000" stroke="#000" stroke-width="0.1">2060</text>
<text x="175.39" y="642.8" font-size="7.35" font-weight="normal" textLength="18.00" lengthAdjust="spacingAndGlyphs" fill="#000" stroke="#000" stroke-width="0.1">2080</text>
<text x="209.94" y="642.8" font-size="7.35" font-weight="normal" textLength="18.00" lengthAdjust="spacingAndGlyphs" fill="#000" stroke="#000" stroke-width="0.1">2100</text>
<text x="29.88" y="486.8" font-size="7.35" font-weight="normal" textLength="4.21" lengthAdjust="spacingAndGlyphs" fill="#000" stroke="#000" stroke-width="0.1">0</text>
<text x="19.43" y="516.71" font-size="7.35" font-weight="normal" textLength="14.72" lengthAdjust="spacingAndGlyphs" fill="#000" stroke="#000" stroke-width="0.1">−20</text>
<text x="19.43" y="546.62" font-size="7.35" font-weight="normal" textLength="14.72" lengthAdjust="spacingAndGlyphs" fill="#000" stroke="#000" stroke-width="0.1">−40</text>
<text x="19.43" y="576.53" font-size="7.35" font-weight="normal" textLength="14.72" lengthAdjust="spacingAndGlyphs" fill="#000" stroke="#000" stroke-width="0.1">−60</text>
<text x="19.43" y="606.44" font-size="7.35" font-weight="normal" textLength="14.72" lengthAdjust="spacingAndGlyphs" fill="#000" stroke="#000" stroke-width="0.1">−80</text>
<text x="14.85" y="636.35" font-size="7.35" font-weight="normal" textLength="19.29" lengthAdjust="spacingAndGlyphs" fill="#000" stroke="#000" stroke-width="0.1">−100</text>
</g>
<g>
<clipPath id="cph"><rect x="263.45" y="469.20" width="190.00" height="164.50"/></clipPath>
<path d="M272.09,469.20V633.70M307.70,469.20V633.70M343.31,469.20V633.70M378.93,469.20V633.70M414.54,469.20V633.70M450.16,469.20V633.70M263.45,630.61H453.45M263.45,612.46H453.45M263.45,594.30H453.45M263.45,576.14H453.45M263.45,557.99H453.45M263.45,539.83H453.45M263.45,521.67H453.45M263.45,503.52H453.45M263.45,485.36H453.45" stroke="#b0b0b0" stroke-opacity="0.75" stroke-width="0.6" fill="none"/>
<path d="M263.45,503.52H453.45" stroke="#000" stroke-opacity="0.8" stroke-width="0.7" stroke-dasharray="2,1.05" fill="none"/>
<g clip-path="url(#cph)">
<path d="M307.70,514.41 C310.67,515.50 320.14,518.89 325.51,520.95 C330.88,523.00 334.74,525.06 339.93,526.76 C345.12,528.45 351.09,530.15 356.67,531.11 C362.25,532.08 367.83,532.14 373.41,532.57 C378.99,532.99 384.54,533.35 390.15,533.66 C395.76,533.96 401.45,534.38 407.06,534.38 C412.67,534.38 418.22,534.14 423.80,533.66 C429.38,533.17 437.04,531.78 440.54,531.48 C444.04,531.17 444.10,531.78 444.81,531.84 L444.81,550.00 C441.31,550.18 430.09,551.21 423.80,551.09 C417.51,550.97 412.67,549.88 407.06,549.27 C401.45,548.67 395.76,548.00 390.15,547.46 C384.54,546.91 378.99,546.67 373.41,546.00 C367.83,545.34 361.68,544.79 356.67,543.46 C351.65,542.13 348.51,540.86 343.31,538.01 C338.12,535.17 331.44,529.96 325.51,526.39 C319.57,522.82 310.67,518.22 307.70,516.59Z" fill="#5397c3" fill-opacity="0.25" stroke="none"/>
<path d="M307.70,514.41 C310.67,515.38 319.57,517.92 325.51,520.22 C331.44,522.52 338.12,525.43 343.31,528.21 C348.51,530.99 351.65,534.08 356.67,536.92 C361.68,539.77 367.83,542.13 373.41,545.28 C378.99,548.42 384.54,551.93 390.15,555.81 C395.76,559.68 401.45,565.31 407.06,568.52 C412.67,571.73 419.35,573.12 423.80,575.05 C428.25,576.99 430.98,578.20 433.77,580.14 C436.56,582.07 438.70,584.50 440.54,586.67 C442.38,588.85 444.10,592.12 444.81,593.21 L444.81,604.83 C441.31,603.32 430.09,599.08 423.80,595.75 C417.51,592.42 412.67,589.16 407.06,584.86 C401.45,580.56 395.76,575.05 390.15,569.97 C384.54,564.89 378.99,558.77 373.41,554.36 C367.83,549.94 361.68,546.61 356.67,543.46 C351.65,540.31 348.51,538.50 343.31,535.47 C338.12,532.45 331.44,528.51 325.51,525.30 C319.57,522.10 310.67,517.74 307.70,516.23Z" fill="#cf934b" fill-opacity="0.25" stroke="none"/>
<path d="M307.70,514.05 C310.67,515.32 320.14,518.95 325.51,521.67 C330.88,524.40 334.74,527.06 339.93,530.39 C345.12,533.72 351.09,537.53 356.67,541.65 C362.25,545.76 367.83,550.36 373.41,555.08 C378.99,559.80 384.54,565.25 390.15,569.97 C395.76,574.69 401.45,579.65 407.06,583.41 C412.67,587.16 418.22,589.88 423.80,592.48 C429.38,595.09 437.04,597.51 440.54,599.02 C444.04,600.53 444.10,601.14 444.81,601.56 L444.81,613.18 C441.31,612.09 430.09,609.43 423.80,606.65 C417.51,603.86 412.67,600.65 407.06,596.48 C401.45,592.30 395.76,586.55 390.15,581.59 C384.54,576.63 378.99,571.66 373.41,566.70 C367.83,561.74 362.25,556.78 356.67,551.81 C351.09,546.85 345.12,540.86 339.93,536.92 C334.74,532.99 330.88,531.66 325.51,528.21 C320.14,524.76 310.67,518.22 307.70,516.23Z" fill="#bb4b5f" fill-opacity="0.25" stroke="none"/>
<path d="M272.09,505.26 C272.41,505.62 273.36,506.71 274.05,507.44 C274.73,508.16 275.35,508.82 276.18,509.62 C277.01,510.42 278.20,512.04 279.03,512.23 C279.86,512.43 280.34,511.21 281.17,510.78 C282.00,510.34 283.16,509.62 284.02,509.62 C284.88,509.62 285.59,510.78 286.33,510.78 C287.07,510.78 287.64,509.74 288.47,509.62 C289.30,509.50 290.25,510.05 291.32,510.05 C292.39,510.05 293.90,509.33 294.88,509.62 C295.86,509.91 296.45,511.12 297.19,511.80 C297.94,512.47 298.62,513.32 299.33,513.68 C300.04,514.05 300.87,513.68 301.47,513.97 C302.06,514.27 302.30,515.11 302.89,515.43 C303.49,515.74 304.23,515.86 305.03,515.86 C305.83,515.86 307.26,515.50 307.70,515.43" stroke="#000" stroke-width="1.7" fill="none" stroke-linejoin="round" stroke-linecap="butt"/>
<path d="M307.70,515.50 C309.04,516.23 313.19,518.65 315.71,519.86 C318.24,521.07 320.46,521.79 322.84,522.76 C325.21,523.73 327.50,524.70 329.96,525.67 C332.42,526.64 335.12,527.60 337.62,528.57 C340.11,529.54 342.48,530.69 344.92,531.48 C347.35,532.26 350.05,532.81 352.22,533.29 C354.38,533.78 355.78,534.02 357.92,534.38 C360.05,534.75 362.46,535.11 365.04,535.47 C367.62,535.84 370.62,536.08 373.41,536.56 C376.20,537.05 378.99,538.14 381.78,538.38 C384.57,538.62 387.33,537.77 390.15,538.01 C392.97,538.26 395.87,539.41 398.69,539.83 C401.51,540.25 404.42,540.25 407.06,540.56 C409.70,540.86 412.32,541.58 414.54,541.65 C416.77,541.71 418.87,541.22 420.42,540.92 C421.96,540.62 421.84,540.01 423.80,539.83 C425.76,539.65 429.38,540.01 432.17,539.83 C434.96,539.65 438.43,538.86 440.54,538.74 C442.65,538.62 444.10,539.04 444.81,539.10" stroke="#4682b9" stroke-width="1.7" fill="none" stroke-linejoin="round" stroke-linecap="butt"/>
<path d="M307.70,515.14 C308.83,515.68 311.88,517.38 314.47,518.40 C317.05,519.43 320.52,520.34 323.19,521.31 C325.86,522.28 328.09,523.13 330.49,524.21 C332.90,525.30 336.04,527.00 337.62,527.85 C339.19,528.69 338.15,528.33 339.93,529.30 C341.71,530.27 345.51,531.84 348.30,533.66 C351.09,535.47 353.88,538.56 356.67,540.19 C359.46,541.83 362.25,541.65 365.04,543.46 C367.83,545.28 370.62,548.85 373.41,551.09 C376.20,553.33 378.99,554.72 381.78,556.90 C384.57,559.08 387.33,562.10 390.15,564.16 C392.97,566.22 395.87,567.43 398.69,569.24 C401.51,571.06 404.27,573.12 407.06,575.05 C409.85,576.99 412.64,578.69 415.43,580.86 C418.22,583.04 421.01,586.19 423.80,588.13 C426.59,590.06 429.38,590.97 432.17,592.48 C434.96,594.00 438.43,596.06 440.54,597.20 C442.65,598.35 444.10,599.02 444.81,599.38" stroke="#f27a24" stroke-width="1.7" fill="none" stroke-linejoin="round" stroke-linecap="butt"/>
<path d="M307.70,514.77 C308.83,515.38 312.12,517.19 314.47,518.40 C316.81,519.62 319.33,520.83 321.77,522.04 C324.20,523.25 326.66,524.21 329.07,525.67 C331.47,527.12 334.38,529.30 336.19,530.75 C338.00,532.20 338.71,533.47 339.93,534.38 C341.15,535.29 342.10,535.11 343.49,536.20 C344.89,537.29 346.10,539.16 348.30,540.92 C350.50,542.67 353.88,544.49 356.67,546.73 C359.46,548.97 362.25,551.69 365.04,554.36 C367.83,557.02 370.62,560.35 373.41,562.71 C376.20,565.07 378.99,565.91 381.78,568.52 C384.57,571.12 387.33,575.60 390.15,578.32 C392.97,581.05 395.87,582.50 398.69,584.86 C401.51,587.22 404.27,590.24 407.06,592.48 C409.85,594.72 412.64,596.54 415.43,598.29 C418.22,600.05 421.01,602.05 423.80,603.02 C426.59,603.98 429.38,603.56 432.17,604.10 C434.96,604.65 438.43,605.68 440.54,606.28 C442.65,606.89 444.10,607.49 444.81,607.74" stroke="#d62728" stroke-width="1.7" fill="none" stroke-linejoin="round" stroke-linecap="butt"/>
</g>
<path d="M272.09,633.70v2.5M307.70,633.70v2.5M343.31,633.70v2.5M378.93,633.70v2.5M414.54,633.70v2.5M450.16,633.70v2.5M263.45,630.61h-2.5M263.45,612.46h-2.5M263.45,594.30h-2.5M263.45,576.14h-2.5M263.45,557.99h-2.5M263.45,539.83h-2.5M263.45,521.67h-2.5M263.45,503.52h-2.5M263.45,485.36h-2.5" stroke="#000" stroke-width="0.6" fill="none"/>
<rect x="263.45" y="469.20" width="190.00" height="164.50" stroke="#000" stroke-width="0.6" fill="none"/>
<text x="263.06" y="642.8" font-size="7.35" font-weight="normal" textLength="18.00" lengthAdjust="spacingAndGlyphs" fill="#000" stroke="#000" stroke-width="0.1">2000</text>
<text x="298.67" y="642.8" font-size="7.35" font-weight="normal" textLength="18.00" lengthAdjust="spacingAndGlyphs" fill="#000" stroke="#000" stroke-width="0.1">2020</text>
<text x="334.29" y="642.8" font-size="7.35" font-weight="normal" textLength="18.00" lengthAdjust="spacingAndGlyphs" fill="#000" stroke="#000" stroke-width="0.1">2040</text>
<text x="369.90" y="642.8" font-size="7.35" font-weight="normal" textLength="18.00" lengthAdjust="spacingAndGlyphs" fill="#000" stroke="#000" stroke-width="0.1">2060</text>
<text x="405.52" y="642.8" font-size="7.35" font-weight="normal" textLength="18.00" lengthAdjust="spacingAndGlyphs" fill="#000" stroke="#000" stroke-width="0.1">2080</text>
<text x="441.13" y="642.8" font-size="7.35" font-weight="normal" textLength="18.00" lengthAdjust="spacingAndGlyphs" fill="#000" stroke="#000" stroke-width="0.1">2100</text>
<text x="245.28" y="633.26" font-size="7.35" font-weight="normal" textLength="14.61" lengthAdjust="spacingAndGlyphs" fill="#000" stroke="#000" stroke-width="0.1">−35</text>
<text x="245.28" y="615.11" font-size="7.35" font-weight="normal" textLength="14.72" lengthAdjust="spacingAndGlyphs" fill="#000" stroke="#000" stroke-width="0.1">−30</text>
<text x="245.28" y="596.95" font-size="7.35" font-weight="normal" textLength="14.61" lengthAdjust="spacingAndGlyphs" fill="#000" stroke="#000" stroke-width="0.1">−25</text>
<text x="245.28" y="578.79" font-size="7.35" font-weight="normal" textLength="14.72" lengthAdjust="spacingAndGlyphs" fill="#000" stroke="#000" stroke-width="0.1">−20</text>
<text x="245.28" y="560.64" font-size="7.35" font-weight="normal" textLength="14.61" lengthAdjust="spacingAndGlyphs" fill="#000" stroke="#000" stroke-width="0.1">−15</text>
<text x="245.28" y="542.48" font-size="7.35" font-weight="normal" textLength="14.72" lengthAdjust="spacingAndGlyphs" fill="#000" stroke="#000" stroke-width="0.1">−10</text>
<text x="249.85" y="524.32" font-size="7.35" font-weight="normal" textLength="10.05" lengthAdjust="spacingAndGlyphs" fill="#000" stroke="#000" stroke-width="0.1">−5</text>
<text x="255.73" y="506.17" font-size="7.35" font-weight="normal" textLength="4.21" lengthAdjust="spacingAndGlyphs" fill="#000" stroke="#000" stroke-width="0.1">0</text>
<text x="255.82" y="488.01" font-size="7.35" font-weight="normal" textLength="4.00" lengthAdjust="spacingAndGlyphs" fill="#000" stroke="#000" stroke-width="0.1">5</text>
</g>
<g>
<clipPath id="cpi"><rect x="489.15" y="469.20" width="190.00" height="164.50"/></clipPath>
<path d="M497.79,469.20V633.70M533.40,469.20V633.70M569.01,469.20V633.70M604.63,469.20V633.70M640.24,469.20V633.70M675.86,469.20V633.70M489.15,633.70H679.15M489.15,600.80H679.15M489.15,567.90H679.15M489.15,535.00H679.15M489.15,502.10H679.15M489.15,469.20H679.15" stroke="#b0b0b0" stroke-opacity="0.75" stroke-width="0.6" fill="none"/>
<g clip-path="url(#cpi)">
<path d="M533.40,571.54 L536.07,571.42 L538.74,572.17 L541.41,573.58 L544.08,573.73 L546.76,573.78 L549.43,573.19 L552.10,573.88 L554.77,572.67 L557.44,572.56 L560.11,571.56 L562.78,571.58 L565.45,572.28 L568.12,571.24 L570.79,570.92 L573.47,569.56 L576.14,569.35 L578.81,570.66 L581.48,569.79 L584.15,570.87 L586.82,569.31 L589.49,566.56 L592.16,564.83 L594.83,562.83 L597.51,562.18 L600.18,561.43 L602.85,562.16 L605.52,562.40 L608.19,562.43 L610.86,560.78 L613.53,560.49 L616.20,561.42 L618.87,562.22 L621.54,561.11 L624.22,560.80 L626.89,560.80 L629.56,559.38 L632.23,558.77 L634.90,559.37 L637.57,560.81 L640.24,561.25 L642.91,562.18 L645.58,562.75 L648.25,562.67 L650.93,561.99 L653.60,559.77 L656.27,558.21 L658.94,558.38 L661.61,557.48 L664.28,556.13 L666.95,558.14 L669.62,558.92 L670.51,558.51 L670.51,571.99 L669.62,571.22 L666.95,570.75 L664.28,570.35 L661.61,568.98 L658.94,570.57 L656.27,570.49 L653.60,571.40 L650.93,573.46 L648.25,573.83 L645.58,574.54 L642.91,572.72 L640.24,573.20 L637.57,571.71 L634.90,570.49 L632.23,571.43 L629.56,570.20 L626.89,570.96 L624.22,571.77 L621.54,572.15 L618.87,573.63 L616.20,572.70 L613.53,572.60 L610.86,572.06 L608.19,572.02 L605.52,572.47 L602.85,571.95 L600.18,573.22 L597.51,572.77 L594.83,571.49 L592.16,573.15 L589.49,575.34 L586.82,577.84 L584.15,578.67 L581.48,578.75 L578.81,578.94 L576.14,578.99 L573.47,578.89 L570.79,579.04 L568.12,579.27 L565.45,581.48 L562.78,581.97 L560.11,582.77 L557.44,582.41 L554.77,581.65 L552.10,583.41 L549.43,582.24 L546.76,583.69 L544.08,583.02 L541.41,582.88 L538.74,582.80 L536.07,582.97 L533.40,582.41Z" fill="#5397c3" fill-opacity="0.25" stroke="none"/>
<path d="M533.40,569.76 L536.07,571.07 L538.74,572.27 L541.41,571.36 L544.08,571.55 L546.76,571.40 L549.43,571.40 L552.10,571.15 L554.77,571.74 L557.44,571.43 L560.11,571.94 L562.78,572.63 L565.45,573.78 L568.12,573.92 L570.79,574.76 L573.47,575.21 L576.14,574.21 L578.81,575.35 L581.48,573.41 L584.15,574.54 L586.82,573.36 L589.49,572.33 L592.16,572.93 L594.83,572.93 L597.51,573.16 L600.18,572.34 L602.85,572.43 L605.52,574.08 L608.19,573.47 L610.86,574.26 L613.53,573.29 L616.20,573.75 L618.87,573.87 L621.54,572.93 L624.22,572.28 L626.89,570.83 L629.56,571.41 L632.23,570.52 L634.90,571.08 L637.57,570.53 L640.24,569.71 L642.91,571.66 L645.58,572.32 L648.25,572.67 L650.93,572.74 L653.60,573.20 L656.27,572.67 L658.94,571.66 L661.61,571.01 L664.28,570.32 L666.95,572.47 L669.62,571.99 L670.51,571.37 L670.51,585.30 L669.62,584.76 L666.95,585.30 L664.28,585.14 L661.61,583.56 L658.94,583.66 L656.27,584.67 L653.60,585.97 L650.93,586.02 L648.25,585.35 L645.58,584.53 L642.91,583.63 L640.24,582.98 L637.57,583.46 L634.90,582.27 L632.23,582.15 L629.56,584.04 L626.89,584.35 L624.22,583.43 L621.54,584.61 L618.87,585.14 L616.20,585.56 L613.53,584.70 L610.86,584.35 L608.19,585.17 L605.52,585.77 L602.85,584.64 L600.18,583.32 L597.51,583.40 L594.83,583.03 L592.16,583.18 L589.49,584.72 L586.82,584.22 L584.15,584.14 L581.48,585.34 L578.81,586.47 L576.14,585.74 L573.47,585.75 L570.79,584.83 L568.12,584.07 L565.45,583.32 L562.78,581.76 L560.11,582.97 L557.44,580.90 L554.77,581.64 L552.10,581.18 L549.43,580.39 L546.76,581.51 L544.08,582.03 L541.41,582.98 L538.74,581.94 L536.07,579.86 L533.40,578.17Z" fill="#cf934b" fill-opacity="0.25" stroke="none"/>
<path d="M533.40,566.99 L536.07,572.26 L538.74,573.75 L541.41,572.36 L544.08,573.15 L546.76,573.74 L549.43,572.00 L552.10,572.69 L554.77,574.56 L557.44,574.35 L560.11,573.61 L562.78,573.44 L565.45,573.84 L568.12,572.55 L570.79,573.53 L573.47,574.88 L576.14,575.76 L578.81,574.96 L581.48,572.66 L584.15,573.16 L586.82,573.70 L589.49,571.77 L592.16,572.09 L594.83,571.83 L597.51,573.16 L600.18,574.31 L602.85,575.20 L605.52,574.63 L608.19,575.16 L610.86,574.46 L613.53,574.15 L616.20,573.62 L618.87,574.14 L621.54,572.47 L624.22,572.51 L626.89,570.44 L629.56,570.39 L632.23,571.36 L634.90,572.11 L637.57,571.03 L640.24,570.14 L642.91,570.29 L645.58,569.84 L648.25,570.48 L650.93,570.41 L653.60,570.06 L656.27,570.65 L658.94,570.51 L661.61,571.19 L664.28,571.61 L666.95,572.20 L669.62,571.09 L670.51,571.43 L670.51,587.81 L669.62,587.15 L666.95,586.09 L664.28,585.59 L661.61,585.40 L658.94,585.95 L656.27,586.24 L653.60,586.08 L650.93,586.55 L648.25,584.31 L645.58,585.03 L642.91,584.14 L640.24,586.31 L637.57,585.95 L634.90,586.17 L632.23,585.25 L629.56,584.49 L626.89,586.70 L624.22,585.54 L621.54,587.78 L618.87,587.50 L616.20,587.22 L613.53,589.19 L610.86,589.71 L608.19,589.32 L605.52,587.85 L602.85,589.07 L600.18,587.35 L597.51,587.43 L594.83,585.04 L592.16,586.80 L589.49,587.05 L586.82,586.57 L584.15,586.54 L581.48,587.82 L578.81,587.08 L576.14,588.14 L573.47,588.36 L570.79,587.50 L568.12,585.70 L565.45,586.66 L562.78,585.86 L560.11,586.32 L557.44,586.54 L554.77,587.78 L552.10,586.72 L549.43,585.35 L546.76,585.86 L544.08,585.76 L541.41,586.65 L538.74,585.39 L536.07,583.38 L533.40,579.67Z" fill="#bb4b5f" fill-opacity="0.25" stroke="none"/>
<path d="M497.79,555.73 L499.57,543.23 L501.35,561.98 L503.13,572.18 L504.91,576.12 L506.69,574.48 L508.47,569.22 L510.25,571.52 L512.03,559.02 L513.81,576.78 L515.59,587.64 L517.37,559.02 L519.15,565.93 L520.94,571.52 L522.36,568.89 L524.14,580.07 L525.92,593.89 L527.70,576.78 L529.66,559.68 L531.44,581.72" stroke="#000" stroke-width="1.7" fill="none" stroke-linejoin="round" stroke-linecap="butt"/>
<path d="M533.40,575.14 L541.06,576.78 L551.92,577.44 L562.78,576.78 L569.37,575.14 L575.96,574.15 L584.68,575.47 L588.96,572.84 L593.41,568.56 L600.00,568.56 L606.41,568.23 L613.00,567.57 L619.59,568.89 L626.17,566.26 L634.90,565.27 L641.31,566.91 L647.90,568.56 L654.49,565.27 L661.08,562.97 L665.35,562.64 L670.51,564.28" stroke="#4682b9" stroke-width="1.7" fill="none" stroke-linejoin="round" stroke-linecap="butt"/>
<path d="M533.40,574.15 L541.06,577.44 L551.92,575.47 L562.78,577.44 L573.82,580.73 L584.68,579.42 L595.55,577.77 L606.41,579.42 L617.45,579.09 L628.31,577.44 L639.17,576.12 L650.04,579.42 L661.08,577.44 L670.51,578.43" stroke="#f27a24" stroke-width="1.7" fill="none" stroke-linejoin="round" stroke-linecap="butt"/>
<path d="M533.40,572.84 L536.61,578.43 L543.19,579.42 L549.78,578.43 L556.37,580.73 L562.78,579.42 L569.37,579.09 L575.96,581.72 L582.55,579.42 L588.96,579.09 L595.55,578.43 L602.14,580.73 L608.72,581.72 L615.31,580.73 L621.72,579.42 L630.45,577.44 L637.04,578.43 L643.63,576.78 L652.35,577.77 L661.08,577.44 L670.51,579.09" stroke="#d62728" stroke-width="1.7" fill="none" stroke-linejoin="round" stroke-linecap="butt"/>
</g>
<path d="M497.79,633.70v2.5M533.40,633.70v2.5M569.01,633.70v2.5M604.63,633.70v2.5M640.24,633.70v2.5M675.86,633.70v2.5M489.15,633.70h-2.5M489.15,600.80h-2.5M489.15,567.90h-2.5M489.15,535.00h-2.5M489.15,502.10h-2.5M489.15,469.20h-2.5" stroke="#000" stroke-width="0.6" fill="none"/>
<rect x="489.15" y="469.20" width="190.00" height="164.50" stroke="#000" stroke-width="0.6" fill="none"/>
<text x="488.76" y="642.8" font-size="7.35" font-weight="normal" textLength="18.00" lengthAdjust="spacingAndGlyphs" fill="#000" stroke="#000" stroke-width="0.1">2000</text>
<text x="524.37" y="642.8" font-size="7.35" font-weight="normal" textLength="18.00" lengthAdjust="spacingAndGlyphs" fill="#000" stroke="#000" stroke-width="0.1">2020</text>
<text x="559.99" y="642.8" font-size="7.35" font-weight="normal" textLength="18.00" lengthAdjust="spacingAndGlyphs" fill="#000" stroke="#000" stroke-width="0.1">2040</text>
<text x="595.60" y="642.8" font-size="7.35" font-weight="normal" textLength="18.00" lengthAdjust="spacingAndGlyphs" fill="#000" stroke="#000" stroke-width="0.1">2060</text>
<text x="631.22" y="642.8" font-size="7.35" font-weight="normal" textLength="18.00" lengthAdjust="spacingAndGlyphs" fill="#000" stroke="#000" stroke-width="0.1">2080</text>
<text x="666.83" y="642.8" font-size="7.35" font-weight="normal" textLength="18.00" lengthAdjust="spacingAndGlyphs" fill="#000" stroke="#000" stroke-width="0.1">2100</text>
<text x="481.43" y="636.35" font-size="7.35" font-weight="normal" textLength="4.21" lengthAdjust="spacingAndGlyphs" fill="#000" stroke="#000" stroke-width="0.1">0</text>
<text x="481.52" y="603.45" font-size="7.35" font-weight="normal" textLength="4.00" lengthAdjust="spacingAndGlyphs" fill="#000" stroke="#000" stroke-width="0.1">1</text>
<text x="481.45" y="570.55" font-size="7.35" font-weight="normal" textLength="4.05" lengthAdjust="spacingAndGlyphs" fill="#000" stroke="#000" stroke-width="0.1">2</text>
<text x="481.52" y="537.65" font-size="7.35" font-weight="normal" textLength="4.05" lengthAdjust="spacingAndGlyphs" fill="#000" stroke="#000" stroke-width="0.1">3</text>
<text x="481.48" y="504.75" font-size="7.35" font-weight="normal" textLength="4.20" lengthAdjust="spacingAndGlyphs" fill="#000" stroke="#000" stroke-width="0.1">4</text>
<text x="481.52" y="471.85" font-size="7.35" font-weight="normal" textLength="4.00" lengthAdjust="spacingAndGlyphs" fill="#000" stroke="#000" stroke-width="0.1">5</text>
</g>
<rect x="122.60" y="39.20" width="102.5" height="52.9" rx="2" ry="2" fill="#fff" fill-opacity="0.8" stroke="#d0d0d0" stroke-width="0.6"/>
<path d="M125.20,45.05H140.40" stroke="#000" stroke-width="1.5"/>
<text x="145.41" y="47" font-size="7.1" font-weight="normal" textLength="32.13" lengthAdjust="spacingAndGlyphs" fill="#000" stroke="#000" stroke-width="0.04">Historical</text>
<path d="M125.20,55.12H140.40" stroke="#4682b9" stroke-width="1.5"/>
<text x="145.48" y="57.07" font-size="7.1" font-weight="normal" textLength="30.52" lengthAdjust="spacingAndGlyphs" fill="#000" stroke="#000" stroke-width="0.04">SSP1-2.6</text>
<path d="M125.20,65.19H140.40" stroke="#f27a24" stroke-width="1.5"/>
<text x="145.48" y="67.14" font-size="7.1" font-weight="normal" textLength="30.45" lengthAdjust="spacingAndGlyphs" fill="#000" stroke="#000" stroke-width="0.04">SSP3-7.0</text>
<path d="M125.20,75.26H140.40" stroke="#d62728" stroke-width="1.5"/>
<text x="145.48" y="77.21" font-size="7.1" font-weight="normal" textLength="30.34" lengthAdjust="spacingAndGlyphs" fill="#000" stroke="#000" stroke-width="0.04">SSP5-8.5</text>
<rect x="125.20" y="82.93" width="15.20" height="4.8" fill="#808080" fill-opacity="0.25"/>
<text x="145.47" y="87.28" font-size="7.1" font-weight="normal" textLength="75.88" lengthAdjust="spacingAndGlyphs" fill="#000" stroke="#000" stroke-width="0.04">25th-75th perc. range</text>
<rect x="122.60" y="256.00" width="102.5" height="52.9" rx="2" ry="2" fill="#fff" fill-opacity="0.8" stroke="#d0d0d0" stroke-width="0.6"/>
<path d="M125.20,261.85H140.40" stroke="#000" stroke-width="1.5"/>
<text x="145.41" y="263.8" font-size="7.1" font-weight="normal" textLength="32.13" lengthAdjust="spacingAndGlyphs" fill="#000" stroke="#000" stroke-width="0.04">Historical</text>
<path d="M125.20,271.92H140.40" stroke="#4682b9" stroke-width="1.5"/>
<text x="145.48" y="273.87" font-size="7.1" font-weight="normal" textLength="30.52" lengthAdjust="spacingAndGlyphs" fill="#000" stroke="#000" stroke-width="0.04">SSP1-2.6</text>
<path d="M125.20,281.99H140.40" stroke="#f27a24" stroke-width="1.5"/>
<text x="145.48" y="283.94" font-size="7.1" font-weight="normal" textLength="30.45" lengthAdjust="spacingAndGlyphs" fill="#000" stroke="#000" stroke-width="0.04">SSP3-7.0</text>
<path d="M125.20,292.06H140.40" stroke="#d62728" stroke-width="1.5"/>
<text x="145.48" y="294.01" font-size="7.1" font-weight="normal" textLength="30.34" lengthAdjust="spacingAndGlyphs" fill="#000" stroke="#000" stroke-width="0.04">SSP5-8.5</text>
<rect x="125.20" y="299.73" width="15.20" height="4.8" fill="#808080" fill-opacity="0.25"/>
<text x="145.47" y="304.08" font-size="7.1" font-weight="normal" textLength="75.88" lengthAdjust="spacingAndGlyphs" fill="#000" stroke="#000" stroke-width="0.04">25th-75th perc. range</text>
<rect x="122.60" y="472.80" width="102.5" height="52.9" rx="2" ry="2" fill="#fff" fill-opacity="0.8" stroke="#d0d0d0" stroke-width="0.6"/>
<path d="M125.20,478.65H140.40" stroke="#000" stroke-width="1.5"/>
<text x="145.41" y="480.6" font-size="7.1" font-weight="normal" textLength="32.13" lengthAdjust="spacingAndGlyphs" fill="#000" stroke="#000" stroke-width="0.04">Historical</text>
<path d="M125.20,488.72H140.40" stroke="#4682b9" stroke-width="1.5"/>
<text x="145.48" y="490.67" font-size="7.1" font-weight="normal" textLength="30.52" lengthAdjust="spacingAndGlyphs" fill="#000" stroke="#000" stroke-width="0.04">SSP1-2.6</text>
<path d="M125.20,498.79H140.40" stroke="#f27a24" stroke-width="1.5"/>
<text x="145.48" y="500.74" font-size="7.1" font-weight="normal" textLength="30.45" lengthAdjust="spacingAndGlyphs" fill="#000" stroke="#000" stroke-width="0.04">SSP3-7.0</text>
<path d="M125.20,508.86H140.40" stroke="#d62728" stroke-width="1.5"/>
<text x="145.48" y="510.81" font-size="7.1" font-weight="normal" textLength="30.34" lengthAdjust="spacingAndGlyphs" fill="#000" stroke="#000" stroke-width="0.04">SSP5-8.5</text>
<rect x="125.20" y="516.53" width="15.20" height="4.8" fill="#808080" fill-opacity="0.25"/>
<text x="145.47" y="520.88" font-size="7.1" font-weight="normal" textLength="75.88" lengthAdjust="spacingAndGlyphs" fill="#000" stroke="#000" stroke-width="0.04">25th-75th perc. range</text>
<text x="-35.95" y="117.85" font-size="11.0" font-weight="normal" textLength="89.09" lengthAdjust="spacingAndGlyphs" fill="#000" stroke="#000" stroke-width="0.2" transform="rotate(-90 8.6 117.85)">Area change (%)</text>
<text x="157.41" y="117.85" font-size="11.0" font-weight="normal" textLength="167.13" lengthAdjust="spacingAndGlyphs" fill="#000" stroke="#000" stroke-width="0.2" transform="rotate(-90 241 117.85)">Net avalanche contribution (%)</text>
<text x="410.19" y="118.55" font-size="11.0" font-weight="normal" textLength="126.17" lengthAdjust="spacingAndGlyphs" fill="#000" stroke="#000" stroke-width="0.2" transform="rotate(-90 473.3 118.55)">Accumulation (m w.eq.)</text>
<text x="-35.95" y="334.65" font-size="11.0" font-weight="normal" textLength="89.09" lengthAdjust="spacingAndGlyphs" fill="#000" stroke="#000" stroke-width="0.2" transform="rotate(-90 8.6 334.65)">Area change (%)</text>
<text x="157.41" y="334.65" font-size="11.0" font-weight="normal" textLength="167.13" lengthAdjust="spacingAndGlyphs" fill="#000" stroke="#000" stroke-width="0.2" transform="rotate(-90 241 334.65)">Net avalanche contribution (%)</text>
<text x="410.19" y="335.35" font-size="11.0" font-weight="normal" textLength="126.17" lengthAdjust="spacingAndGlyphs" fill="#000" stroke="#000" stroke-width="0.2" transform="rotate(-90 473.3 335.35)">Accumulation (m w.eq.)</text>
<text x="-35.95" y="551.45" font-size="11.0" font-weight="normal" textLength="89.09" lengthAdjust="spacingAndGlyphs" fill="#000" stroke="#000" stroke-width="0.2" transform="rotate(-90 8.6 551.45)">Area change (%)</text>
<text x="157.41" y="551.45" font-size="11.0" font-weight="normal" textLength="167.13" lengthAdjust="spacingAndGlyphs" fill="#000" stroke="#000" stroke-width="0.2" transform="rotate(-90 241 551.45)">Net avalanche contribution (%)</text>
<text x="410.19" y="552.15" font-size="11.0" font-weight="normal" textLength="126.17" lengthAdjust="spacingAndGlyphs" fill="#000" stroke="#000" stroke-width="0.2" transform="rotate(-90 473.3 552.15)">Accumulation (m w.eq.)</text>
<text x="120.99" y="657.6" font-size="11.0" font-weight="normal" textLength="23.09" lengthAdjust="spacingAndGlyphs" fill="#000" stroke="#000" stroke-width="0.2">Year</text>
<text x="346.84" y="657.6" font-size="11.0" font-weight="normal" textLength="23.09" lengthAdjust="spacingAndGlyphs" fill="#000" stroke="#000" stroke-width="0.2">Year</text>
<text x="572.54" y="657.6" font-size="11.0" font-weight="normal" textLength="23.09" lengthAdjust="spacingAndGlyphs" fill="#000" stroke="#000" stroke-width="0.2">Year</text>
<text x="300.03" y="9.3" font-size="10.9" font-weight="bold" textLength="90.11" lengthAdjust="spacingAndGlyphs" fill="#000" stroke="#000" stroke-width="0.25">Central Europe</text>
<text x="306.12" y="226" font-size="10.9" font-weight="bold" textLength="78.04" lengthAdjust="spacingAndGlyphs" fill="#000" stroke="#000" stroke-width="0.25">New Zealand</text>
<text x="302.94" y="442.6" font-size="10.9" font-weight="bold" textLength="84.54" lengthAdjust="spacingAndGlyphs" fill="#000" stroke="#000" stroke-width="0.25">Low Latitudes</text>
<text x="34.49" y="20.7" font-size="11.8" font-weight="bold" textLength="6.17" lengthAdjust="spacingAndGlyphs" fill="#000" stroke="#000" stroke-width="0.25">a</text>
<text x="262.10" y="20.7" font-size="11.8" font-weight="bold" textLength="7.57" lengthAdjust="spacingAndGlyphs" fill="#000" stroke="#000" stroke-width="0.25">b</text>
<text x="490.00" y="20.7" font-size="11.8" font-weight="bold" textLength="5.95" lengthAdjust="spacingAndGlyphs" fill="#000" stroke="#000" stroke-width="0.25">c</text>
<text x="35.29" y="239" font-size="11.8" font-weight="bold" textLength="7.57" lengthAdjust="spacingAndGlyphs" fill="#000" stroke="#000" stroke-width="0.25">d</text>
<text x="262.10" y="239" font-size="11.8" font-weight="bold" textLength="7.31" lengthAdjust="spacingAndGlyphs" fill="#000" stroke="#000" stroke-width="0.25">e</text>
<text x="490.00" y="239" font-size="11.8" font-weight="bold" textLength="4.73" lengthAdjust="spacingAndGlyphs" fill="#000" stroke="#000" stroke-width="0.25">f</text>
<text x="34.99" y="459.1" font-size="11.8" font-weight="bold" textLength="7.57" lengthAdjust="spacingAndGlyphs" fill="#000" stroke="#000" stroke-width="0.25">g</text>
<text x="262.45" y="459" font-size="11.8" font-weight="bold" textLength="7.49" lengthAdjust="spacingAndGlyphs" fill="#000" stroke="#000" stroke-width="0.25">h</text>
<text x="489.97" y="459" font-size="11.8" font-weight="bold" textLength="3.72" lengthAdjust="spacingAndGlyphs" fill="#000" stroke="#000" stroke-width="0.25">i</text>
</svg></body></html>
